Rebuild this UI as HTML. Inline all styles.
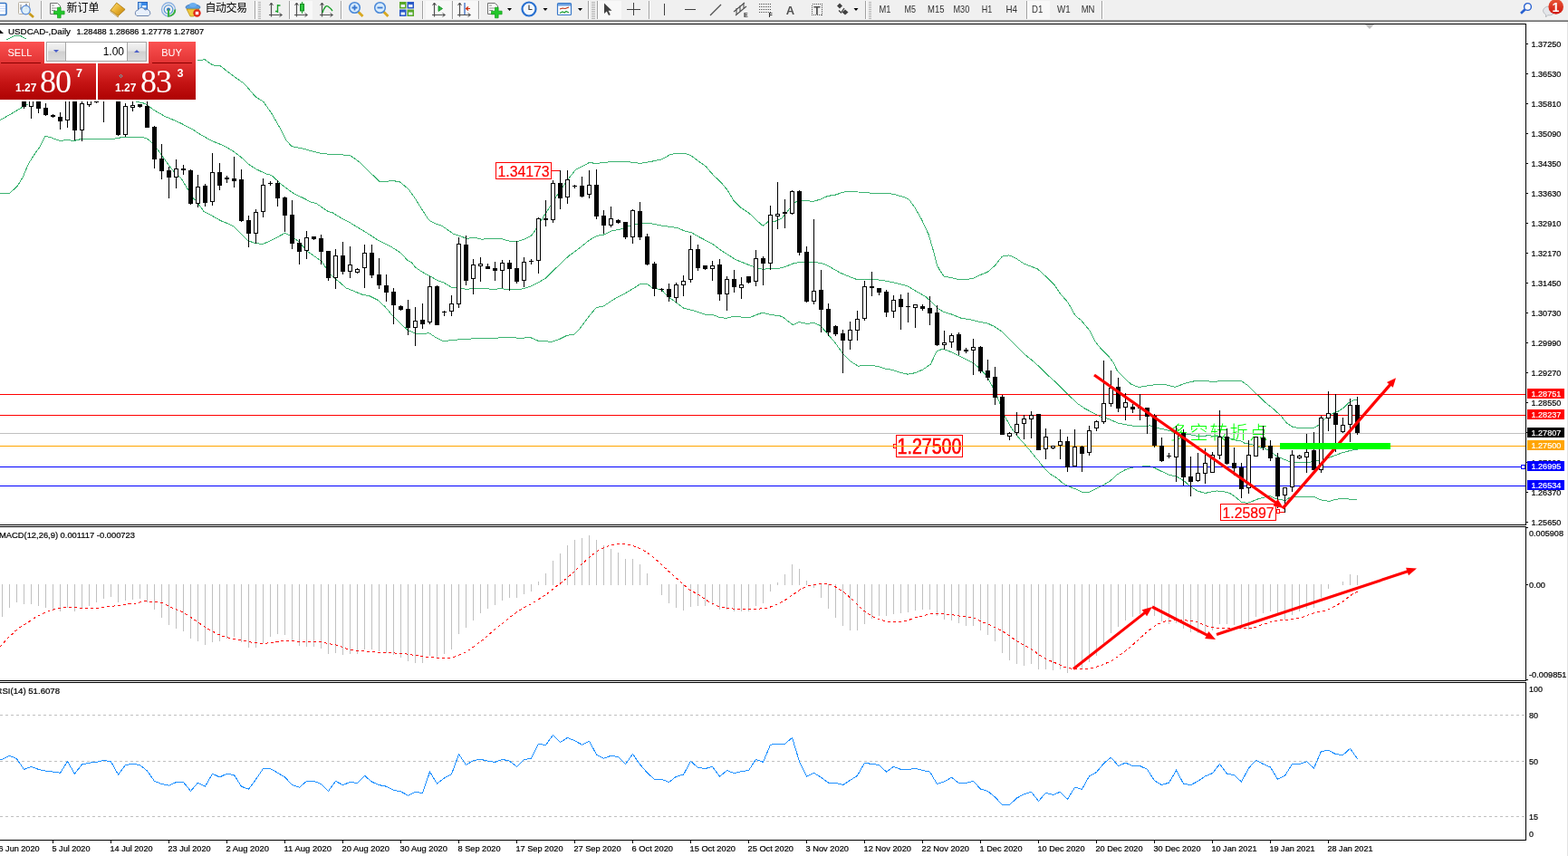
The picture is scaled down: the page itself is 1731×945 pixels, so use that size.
<!DOCTYPE html>
<html lang="zh"><head><meta charset="utf-8"><title>USDCAD Daily</title>
<style>
html,body{margin:0;padding:0;background:#fff;}
body{width:1731px;height:945px;overflow:hidden;position:relative;}
svg{position:absolute;left:0;top:0;display:block;font-family:"Liberation Sans","Noto Sans CJK SC",sans-serif;}
text{white-space:pre;}
</style></head><body>
<svg width="1731" height="945" viewBox="0 0 1731 945">
<g shape-rendering="crispEdges">
<rect x="0" y="26" width="1685" height="1" fill="#000"/>
<rect x="1684" y="26" width="1" height="554" fill="#000"/>
<rect x="0" y="579" width="1685" height="1" fill="#000"/>
<rect x="0" y="581" width="1685" height="1" fill="#000"/>
<rect x="1684" y="581" width="1" height="171" fill="#000"/>
<rect x="0" y="751" width="1685" height="1" fill="#000"/>
<rect x="0" y="753" width="1685" height="1" fill="#000"/>
<rect x="1684" y="753" width="1" height="175" fill="#000"/>
<rect x="0" y="927" width="1685" height="1" fill="#000"/>
<rect x="1730" y="24" width="1" height="921" fill="#e3e3e3"/>
</g>
<g id="bgobjects">
<text x="1291.5" y="485" font-size="20" fill="#00ff00" text-anchor="start" id="cn" letter-spacing="2" font-weight="300">多空转折点</text>
<rect x="547.5" y="179.5" width="61" height="18" fill="none" stroke="#f00" stroke-width="1" shape-rendering="crispEdges"/>
<text x="0" y="0" font-size="15.8" fill="#f00" stroke="#f00" stroke-width="0.2" text-anchor="middle" transform="translate(578.0,195) scale(1,1.0)">1.34173</text>
<rect x="609" y="188" width="10" height="1" fill="#f00" shape-rendering="crispEdges"/>
<rect x="989.5" y="480.5" width="73" height="24" fill="none" stroke="#f00" stroke-width="1" shape-rendering="crispEdges"/>
<text x="0" y="0" font-size="19.6" fill="#f00" stroke="#f00" stroke-width="0.5" text-anchor="middle" transform="translate(1026.0,501) scale(1,1.18)">1.27500</text>
<rect x="986.5" y="490.5" width="3" height="4" fill="none" stroke="#f00" shape-rendering="crispEdges"/>
<rect x="1347.5" y="556.5" width="61" height="18" fill="none" stroke="#f00" stroke-width="1" shape-rendering="crispEdges"/>
<text x="0" y="0" font-size="15.8" fill="#f00" stroke="#f00" stroke-width="0.2" text-anchor="middle" transform="translate(1378.0,572) scale(1,1.0)">1.25897</text>
<rect x="1409.5" y="562.5" width="3" height="4" fill="none" stroke="#f00" shape-rendering="crispEdges"/>
<rect x="1412" y="565" width="7" height="1" fill="#f00" shape-rendering="crispEdges"/>
</g>
<g shape-rendering="crispEdges">
</g><g id="bands" shape-rendering="crispEdges">
<polyline points="7.5,43.7 15.0,40.0 22.5,39.5 28.7,43.0" fill="none" stroke="#3cb371" stroke-width="1"/>
<polyline points="216.0,67.4 226.0,65.7 234.7,71.9 243.5,72.9 249.7,77.9 259.7,85.4 269.7,92.4 282.2,106.9 290.9,112.4 299.7,124.9 309.6,142.4 315.9,154.8 322.0,161.6 334.6,164.1 338.7,165.3 354.2,169.4 370.9,170.8 386.1,171.2 393.9,176.7 400.1,181.8 409.2,191.0 418.8,200.2 425.7,200.5 433.0,199.3 441.5,201.0 450.7,208.5 457.4,217.7 464.1,228.5 472.6,241.8 475.2,244.2 480.8,246.9 486.6,248.7 491.9,252.0 500.3,258.1 508.6,260.9 515.3,263.4 523.7,262.1 532.0,264.2 542.1,263.4 552.1,263.1 560.5,265.9 570.5,266.7 579.5,263.9 587.0,259.8 592.8,251.4 599.6,239.8 610.1,223.5 618.4,210.1 626.8,198.4 635.2,187.6 643.5,183.4 650.2,179.6 658.6,180.4 668.6,179.2 680.3,178.4 693.7,178.7 707.0,180.4 718.7,178.4 730.4,175.9 740.5,170.4 747.2,169.2 755.5,169.2 762.2,171.4 770.6,177.6 778.9,183.4 787.5,193.4 795.5,200.9 803.0,209.7 810.5,222.2 818.0,229.4 826.4,234.8 834.7,242.7 842.2,249.4 849.0,243.9 855.6,244.5 863.1,240.8 869.2,233.5 875.5,225.1 880.5,221.7 888.9,221.2 897.2,222.6 905.6,220.1 914.0,216.4 922.3,215.1 930.7,212.2 939.0,211.2 947.4,212.0 955.7,212.2 964.1,213.7 975.8,213.9 980.0,213.0 989.0,215.1 998.4,217.6 1003.4,220.1 1010.1,229.3 1016.8,241.0 1025.2,258.9 1030.6,277.6 1034.6,293.1 1037.7,298.6 1042.3,305.2 1050.2,306.5 1057.2,308.2 1068.3,308.4 1074.4,307.3 1082.0,303.6 1090.3,300.3 1098.7,292.8 1106.2,283.2 1113.7,281.9 1120.4,284.4 1130.4,291.1 1138.8,294.4 1145.5,296.9 1153.8,304.5 1163.9,314.5 1170.6,324.5 1178.9,333.7 1187.2,348.6 1193.8,353.9 1196.5,357.1 1203.0,365.0 1208.8,376.7 1215.5,385.1 1223.9,393.5 1228.9,400.1 1233.9,410.2 1240.6,416.9 1248.9,424.4 1257.3,427.4 1265.7,426.1 1277.4,424.4 1287.4,424.9 1297.4,427.4 1307.4,423.5 1317.5,421.0 1329.0,420.5 1340.0,421.4 1350.1,420.4 1360.1,420.4 1370.1,420.4 1376.8,425.0 1383.5,431.7 1390.2,437.6 1396.9,444.3 1405.2,451.0 1413.6,458.5 1420.3,466.8 1426.9,471.3 1435.3,472.7 1443.7,473.0 1452.0,471.8 1458.7,466.8 1463.7,461.0 1470.4,456.8 1477.1,454.3 1483.8,449.8 1488.8,444.8 1493.8,442.1 1498.5,440.9" fill="none" stroke="#3cb371" stroke-width="1"/>
<polyline points="0.0,132.7 12.5,125.6 25.0,118.1 31.2,115.0" fill="none" stroke="#3cb371" stroke-width="1"/>
<polyline points="150.4,112.2 158.6,114.0 162.3,115.6 169.2,121.2 177.3,125.6 182.3,128.6 187.3,130.6 199.8,136.1 214.2,143.8 217.2,146.1 232.2,154.8 247.8,161.2 258.2,167.4 266.9,174.2 273.7,180.8 282.9,186.8 293.6,191.8 299.7,193.5 307.0,200.1 312.1,204.8 324.1,213.5 337.1,219.8 342.1,222.7 349.6,224.8 362.1,233.5 367.1,234.8 377.2,241.1 384.6,244.7 392.2,249.4 401.0,254.7 408.6,259.4 418.7,266.0 432.9,273.1 442.1,279.0 450.1,287.6 454.1,289.5 458.5,295.2 465.5,299.9 474.6,304.9 483.9,309.9 489.9,311.9 498.6,317.4 507.0,317.7 515.3,319.4 523.7,318.2 533.7,318.2 543.7,319.4 553.8,318.6 562.1,319.9 573.8,319.4 582.0,317.6 591.1,313.6 602.0,307.4 612.8,296.9 622.3,287.6 628.8,281.9 639.6,274.0 650.5,265.2 658.9,260.4 667.1,258.9 675.5,254.9 687.5,252.4 698.5,247.9 707.7,246.4 718.5,246.7 729.4,248.9 738.4,250.2 747.9,251.6 756.1,255.1 763.7,256.9 772.0,261.7 780.2,266.0 787.5,269.9 795.9,276.3 804.7,281.9 811.5,286.3 817.0,288.6 823.2,291.1 832.1,294.5 840.6,297.0 843.5,297.1 851.0,296.7 861.1,296.1 868.5,293.8 877.0,290.4 883.9,289.4 888.6,289.2 893.9,289.4 902.1,289.8 910.5,291.6 918.9,296.2 928.0,301.4 937.2,305.2 945.6,308.4 955.6,308.8 968.1,308.8 979.4,310.4 989.5,312.5 1001.2,315.6 1006.7,318.7 1013.7,322.8 1022.1,327.8 1029.6,334.4 1035.2,340.4 1041.3,344.1 1050.5,347.0 1057.7,349.9 1060.8,351.1 1068.3,352.4 1073.4,353.3 1080.3,355.1 1090.7,357.1 1098.5,360.9 1106.9,366.7 1115.2,375.1 1123.6,383.4 1131.9,391.8 1140.3,398.5 1148.6,406.0 1157.0,414.4 1165.4,421.9 1173.6,430.1 1181.2,437.6 1189.5,445.5 1197.8,451.1 1207.1,456.0 1215.4,460.1 1223.8,462.5 1233.8,466.9 1243.8,468.9 1255.5,470.9 1263.8,470.1 1269.0,470.0 1273.8,470.1 1279.0,472.9 1283.9,473.8 1292.3,475.7 1302.3,478.2 1312.4,479.4 1322.4,481.5 1329.0,481.9 1334.0,480.1 1340.0,481.9 1344.0,481.0 1350.1,482.7 1354.1,483.2 1360.1,484.4 1364.1,486.0 1370.1,486.9 1374.1,489.3 1380.1,490.2 1386.1,492.0 1388.5,493.6 1396.9,495.2 1403.5,499.4 1410.2,504.1 1416.9,506.9 1423.6,509.5 1430.3,510.3 1438.6,510.3 1447.0,510.0 1453.7,508.6 1460.4,507.8 1467.1,505.3 1473.7,502.8 1480.4,500.3 1487.1,498.3 1493.8,496.9 1498.5,496.1" fill="none" stroke="#3cb371" stroke-width="1"/>
<polyline points="0.0,213.2 10.6,213.2 18.7,206.1 25.0,196.1 31.2,181.2 37.5,171.2 43.7,162.4 49.9,150.3 56.2,151.8 66.2,155.6 74.9,154.3 81.2,155.6 89.9,153.4 124.9,153.3 137.3,151.2 156.1,151.2 162.3,153.1 168.6,158.1 174.8,166.2 181.0,174.9 187.3,183.7 193.5,191.1 199.9,196.6 206.8,208.1 212.3,218.0 216.7,221.8 225.1,233.5 233.4,237.7 243.5,243.6 251.8,246.9 258.5,250.3 266.9,258.6 273.5,265.6 281.9,268.6 290.3,269.5 300.3,265.0 314.5,257.4 320.3,260.3 330.4,267.0 338.7,277.0 347.1,282.9 355.4,288.7 360.5,297.1 367.2,305.4 375.5,312.1 382.2,318.0 400.0,325.2 408.4,326.9 416.7,331.1 425.1,338.6 433.4,348.6 441.8,357.0 450.1,364.5 458.5,367.9 466.9,369.0 473.5,367.5 480.2,372.0 488.6,376.2 493.6,376.2 508.6,374.6 525.4,373.7 542.1,373.4 558.8,372.6 575.5,373.2 585.5,372.6 593.9,376.2 602.3,376.7 608.9,377.4 617.3,374.6 625.7,370.4 634.0,369.2 640.7,362.0 650.7,348.6 658.2,339.5 665.8,338.3 674.1,332.8 680.8,328.6 688.0,325.2 700.1,317.9 706.9,313.3 714.4,313.3 721.0,318.4 730.1,319.5 736.8,327.0 745.1,332.9 755.2,340.4 766.9,343.3 778.5,347.1 786.8,347.5 793.5,350.1 801.0,351.4 810.2,349.2 818.5,350.1 826.9,351.0 835.3,347.4 842.4,345.1 850.3,347.5 859.5,348.5 863.8,349.6 868.3,353.3 875.3,358.6 882.0,355.6 890.3,357.3 898.7,356.6 905.4,359.4 913.7,368.6 922.1,378.6 930.4,390.3 938.8,398.7 947.2,404.2 955.5,403.4 968.9,404.2 977.2,407.1 985.6,408.4 994.0,411.2 1002.3,413.2 1010.7,411.6 1019.0,407.9 1027.4,402.0 1034.1,387.8 1040.4,385.2 1047.9,387.7 1057.1,391.9 1066.5,396.9 1073.4,400.1 1081.8,406.8 1090.1,416.0 1098.4,432.2 1104.2,446.0 1110.1,461.1 1116.8,472.8 1124.3,482.8 1131.8,491.1 1136.9,497.1 1142.7,504.4 1146.1,508.0 1150.1,513.6 1158.5,522.8 1166.9,527.8 1173.5,533.6 1181.9,537.8 1188.6,540.3 1195.3,543.7 1202.0,543.3 1208.6,540.3 1217.0,536.1 1225.4,531.1 1233.7,523.6 1242.1,518.6 1250.4,516.1 1258.8,515.2 1267.2,514.4 1273.8,516.1 1282.2,520.3 1290.6,524.1 1298.9,526.1 1307.3,531.1 1314.0,537.0 1322.3,542.0 1330.3,544.5 1337.8,542.8 1343.4,542.0 1350.4,542.6 1357.9,544.5 1363.8,548.7 1370.4,554.1 1377.2,555.4 1383.8,552.9 1389.1,550.8 1396.9,548.7 1401.0,547.2 1408.0,550.3 1412.6,551.9 1419.6,552.1 1423.3,549.3 1429.0,548.4 1450.8,548.4 1457.0,551.7 1467.1,553.4 1475.4,551.2 1483.8,550.4 1490.5,551.2 1498.5,551.6" fill="none" stroke="#3cb371" stroke-width="1"/>
</g><g shape-rendering="crispEdges">
<rect x="0" y="435" width="1684" height="1" fill="#f00"/>
<rect x="0" y="458" width="1684" height="1" fill="#f00"/>
<rect x="0" y="478" width="1684" height="1" fill="#c0c0c0"/>
<rect x="0" y="492" width="1684" height="1" fill="#ffa500"/>
<rect x="0" y="515" width="1684" height="1" fill="#00f"/>
<rect x="0" y="536" width="1684" height="1" fill="#00f"/>
</g>
<g id="candles" shape-rendering="crispEdges">
<rect x="26" y="100" width="1" height="20" fill="#000"/>
<rect x="24" y="100" width="5" height="18" fill="#000"/>
<rect x="34" y="100" width="1" height="31" fill="#000"/>
<rect x="32" y="100" width="5" height="18" fill="#000"/>
<rect x="33" y="101" width="3" height="16" fill="#fff"/>
<rect x="42" y="100" width="1" height="25" fill="#000"/>
<rect x="40" y="100" width="5" height="20" fill="#000"/>
<rect x="50" y="114" width="1" height="14" fill="#000"/>
<rect x="48" y="119" width="5" height="8" fill="#000"/>
<rect x="58" y="126" width="1" height="4" fill="#000"/>
<rect x="56" y="127" width="5" height="2" fill="#000"/>
<rect x="66" y="124" width="1" height="19" fill="#000"/>
<rect x="64" y="129" width="5" height="5" fill="#000"/>
<rect x="74" y="100" width="1" height="41" fill="#000"/>
<rect x="72" y="100" width="5" height="33" fill="#000"/>
<rect x="73" y="101" width="3" height="31" fill="#fff"/>
<rect x="82" y="100" width="1" height="55" fill="#000"/>
<rect x="80" y="100" width="5" height="44" fill="#000"/>
<rect x="90" y="112" width="1" height="44" fill="#000"/>
<rect x="88" y="114" width="5" height="30" fill="#000"/>
<rect x="89" y="115" width="3" height="28" fill="#fff"/>
<rect x="98" y="100" width="1" height="18" fill="#000"/>
<rect x="96" y="100" width="5" height="16" fill="#000"/>
<rect x="97" y="101" width="3" height="14" fill="#fff"/>
<rect x="106" y="112" width="1" height="2" fill="#000"/>
<rect x="104" y="112" width="5" height="1" fill="#000"/>
<rect x="114" y="100" width="1" height="35" fill="#000"/>
<rect x="112" y="100" width="5" height="1" fill="#000"/>
<rect x="130" y="100" width="1" height="50" fill="#000"/>
<rect x="128" y="100" width="5" height="49" fill="#000"/>
<rect x="138" y="114" width="1" height="37" fill="#000"/>
<rect x="136" y="117" width="5" height="32" fill="#000"/>
<rect x="137" y="118" width="3" height="30" fill="#fff"/>
<rect x="146" y="112" width="1" height="11" fill="#000"/>
<rect x="144" y="116" width="5" height="3" fill="#000"/>
<rect x="145" y="117" width="3" height="1" fill="#fff"/>
<rect x="154" y="115" width="1" height="4" fill="#000"/>
<rect x="152" y="115" width="5" height="3" fill="#000"/>
<rect x="162" y="112" width="1" height="29" fill="#000"/>
<rect x="160" y="117" width="5" height="24" fill="#000"/>
<rect x="170" y="139" width="1" height="47" fill="#000"/>
<rect x="168" y="140" width="5" height="36" fill="#000"/>
<rect x="178" y="159" width="1" height="39" fill="#000"/>
<rect x="176" y="175" width="5" height="14" fill="#000"/>
<rect x="186" y="184" width="1" height="35" fill="#000"/>
<rect x="184" y="188" width="5" height="8" fill="#000"/>
<rect x="194" y="176" width="1" height="32" fill="#000"/>
<rect x="192" y="186" width="5" height="10" fill="#000"/>
<rect x="193" y="187" width="3" height="8" fill="#fff"/>
<rect x="202" y="182" width="1" height="11" fill="#000"/>
<rect x="200" y="186" width="5" height="2" fill="#000"/>
<rect x="210" y="187" width="1" height="39" fill="#000"/>
<rect x="208" y="188" width="5" height="37" fill="#000"/>
<rect x="218" y="193" width="1" height="36" fill="#000"/>
<rect x="216" y="206" width="5" height="19" fill="#000"/>
<rect x="217" y="207" width="3" height="17" fill="#fff"/>
<rect x="226" y="203" width="1" height="25" fill="#000"/>
<rect x="224" y="205" width="5" height="19" fill="#000"/>
<rect x="234" y="169" width="1" height="58" fill="#000"/>
<rect x="232" y="190" width="5" height="33" fill="#000"/>
<rect x="233" y="191" width="3" height="31" fill="#fff"/>
<rect x="242" y="180" width="1" height="30" fill="#000"/>
<rect x="240" y="190" width="5" height="15" fill="#000"/>
<rect x="250" y="194" width="1" height="8" fill="#000"/>
<rect x="248" y="196" width="5" height="2" fill="#000"/>
<rect x="258" y="173" width="1" height="34" fill="#000"/>
<rect x="256" y="197" width="5" height="3" fill="#000"/>
<rect x="266" y="187" width="1" height="58" fill="#000"/>
<rect x="264" y="198" width="5" height="46" fill="#000"/>
<rect x="274" y="238" width="1" height="35" fill="#000"/>
<rect x="272" y="243" width="5" height="15" fill="#000"/>
<rect x="282" y="231" width="1" height="38" fill="#000"/>
<rect x="280" y="234" width="5" height="24" fill="#000"/>
<rect x="281" y="235" width="3" height="22" fill="#fff"/>
<rect x="290" y="197" width="1" height="43" fill="#000"/>
<rect x="288" y="204" width="5" height="30" fill="#000"/>
<rect x="289" y="205" width="3" height="28" fill="#fff"/>
<rect x="298" y="200" width="1" height="5" fill="#000"/>
<rect x="296" y="202" width="5" height="1" fill="#000"/>
<rect x="306" y="199" width="1" height="29" fill="#000"/>
<rect x="304" y="202" width="5" height="17" fill="#000"/>
<rect x="314" y="217" width="1" height="39" fill="#000"/>
<rect x="312" y="218" width="5" height="20" fill="#000"/>
<rect x="322" y="221" width="1" height="54" fill="#000"/>
<rect x="320" y="237" width="5" height="32" fill="#000"/>
<rect x="330" y="264" width="1" height="28" fill="#000"/>
<rect x="328" y="268" width="5" height="10" fill="#000"/>
<rect x="338" y="255" width="1" height="31" fill="#000"/>
<rect x="336" y="262" width="5" height="15" fill="#000"/>
<rect x="337" y="263" width="3" height="13" fill="#fff"/>
<rect x="346" y="261" width="1" height="4" fill="#000"/>
<rect x="344" y="261" width="5" height="3" fill="#000"/>
<rect x="354" y="259" width="1" height="33" fill="#000"/>
<rect x="352" y="263" width="5" height="15" fill="#000"/>
<rect x="362" y="277" width="1" height="33" fill="#000"/>
<rect x="360" y="277" width="5" height="30" fill="#000"/>
<rect x="370" y="275" width="1" height="44" fill="#000"/>
<rect x="368" y="282" width="5" height="25" fill="#000"/>
<rect x="369" y="283" width="3" height="23" fill="#fff"/>
<rect x="378" y="267" width="1" height="36" fill="#000"/>
<rect x="376" y="282" width="5" height="18" fill="#000"/>
<rect x="386" y="272" width="1" height="35" fill="#000"/>
<rect x="384" y="292" width="5" height="8" fill="#000"/>
<rect x="385" y="293" width="3" height="6" fill="#fff"/>
<rect x="394" y="296" width="1" height="6" fill="#000"/>
<rect x="392" y="297" width="5" height="4" fill="#000"/>
<rect x="393" y="298" width="3" height="2" fill="#fff"/>
<rect x="402" y="270" width="1" height="48" fill="#000"/>
<rect x="400" y="279" width="5" height="17" fill="#000"/>
<rect x="401" y="280" width="3" height="15" fill="#fff"/>
<rect x="410" y="270" width="1" height="37" fill="#000"/>
<rect x="408" y="279" width="5" height="25" fill="#000"/>
<rect x="418" y="285" width="1" height="34" fill="#000"/>
<rect x="416" y="303" width="5" height="12" fill="#000"/>
<rect x="426" y="303" width="1" height="30" fill="#000"/>
<rect x="424" y="315" width="5" height="8" fill="#000"/>
<rect x="434" y="318" width="1" height="40" fill="#000"/>
<rect x="432" y="322" width="5" height="15" fill="#000"/>
<rect x="442" y="337" width="1" height="6" fill="#000"/>
<rect x="440" y="338" width="5" height="4" fill="#000"/>
<rect x="450" y="331" width="1" height="39" fill="#000"/>
<rect x="448" y="341" width="5" height="21" fill="#000"/>
<rect x="458" y="339" width="1" height="43" fill="#000"/>
<rect x="456" y="354" width="5" height="8" fill="#000"/>
<rect x="457" y="355" width="3" height="6" fill="#fff"/>
<rect x="466" y="335" width="1" height="28" fill="#000"/>
<rect x="464" y="353" width="5" height="5" fill="#000"/>
<rect x="474" y="305" width="1" height="53" fill="#000"/>
<rect x="472" y="316" width="5" height="40" fill="#000"/>
<rect x="473" y="317" width="3" height="38" fill="#fff"/>
<rect x="482" y="315" width="1" height="44" fill="#000"/>
<rect x="480" y="316" width="5" height="43" fill="#000"/>
<rect x="490" y="343" width="1" height="6" fill="#000"/>
<rect x="488" y="344" width="5" height="1" fill="#000"/>
<rect x="498" y="326" width="1" height="23" fill="#000"/>
<rect x="496" y="335" width="5" height="9" fill="#000"/>
<rect x="497" y="336" width="3" height="7" fill="#fff"/>
<rect x="506" y="262" width="1" height="78" fill="#000"/>
<rect x="504" y="269" width="5" height="67" fill="#000"/>
<rect x="505" y="270" width="3" height="65" fill="#fff"/>
<rect x="514" y="260" width="1" height="55" fill="#000"/>
<rect x="512" y="270" width="5" height="40" fill="#000"/>
<rect x="522" y="286" width="1" height="39" fill="#000"/>
<rect x="520" y="292" width="5" height="16" fill="#000"/>
<rect x="521" y="293" width="3" height="14" fill="#fff"/>
<rect x="530" y="284" width="1" height="27" fill="#000"/>
<rect x="528" y="291" width="5" height="3" fill="#000"/>
<rect x="529" y="292" width="3" height="1" fill="#fff"/>
<rect x="538" y="291" width="1" height="6" fill="#000"/>
<rect x="536" y="294" width="5" height="3" fill="#000"/>
<rect x="546" y="289" width="1" height="21" fill="#000"/>
<rect x="544" y="296" width="5" height="3" fill="#000"/>
<rect x="554" y="287" width="1" height="31" fill="#000"/>
<rect x="552" y="290" width="5" height="9" fill="#000"/>
<rect x="553" y="291" width="3" height="7" fill="#fff"/>
<rect x="562" y="287" width="1" height="34" fill="#000"/>
<rect x="560" y="290" width="5" height="7" fill="#000"/>
<rect x="570" y="266" width="1" height="47" fill="#000"/>
<rect x="568" y="296" width="5" height="15" fill="#000"/>
<rect x="578" y="284" width="1" height="33" fill="#000"/>
<rect x="576" y="289" width="5" height="21" fill="#000"/>
<rect x="577" y="290" width="3" height="19" fill="#fff"/>
<rect x="586" y="286" width="1" height="6" fill="#000"/>
<rect x="584" y="288" width="5" height="1" fill="#000"/>
<rect x="594" y="240" width="1" height="62" fill="#000"/>
<rect x="592" y="241" width="5" height="47" fill="#000"/>
<rect x="593" y="242" width="3" height="45" fill="#fff"/>
<rect x="602" y="221" width="1" height="29" fill="#000"/>
<rect x="600" y="241" width="5" height="2" fill="#000"/>
<rect x="610" y="199" width="1" height="47" fill="#000"/>
<rect x="608" y="202" width="5" height="41" fill="#000"/>
<rect x="609" y="203" width="3" height="39" fill="#fff"/>
<rect x="618" y="188" width="1" height="43" fill="#000"/>
<rect x="616" y="202" width="5" height="17" fill="#000"/>
<rect x="626" y="188" width="1" height="37" fill="#000"/>
<rect x="624" y="198" width="5" height="20" fill="#000"/>
<rect x="625" y="199" width="3" height="18" fill="#fff"/>
<rect x="634" y="204" width="1" height="4" fill="#000"/>
<rect x="632" y="205" width="5" height="1" fill="#000"/>
<rect x="642" y="195" width="1" height="23" fill="#000"/>
<rect x="640" y="205" width="5" height="12" fill="#000"/>
<rect x="650" y="188" width="1" height="31" fill="#000"/>
<rect x="648" y="204" width="5" height="11" fill="#000"/>
<rect x="649" y="205" width="3" height="9" fill="#fff"/>
<rect x="658" y="187" width="1" height="55" fill="#000"/>
<rect x="656" y="204" width="5" height="35" fill="#000"/>
<rect x="666" y="232" width="1" height="26" fill="#000"/>
<rect x="664" y="238" width="5" height="11" fill="#000"/>
<rect x="674" y="228" width="1" height="23" fill="#000"/>
<rect x="672" y="241" width="5" height="8" fill="#000"/>
<rect x="673" y="242" width="3" height="6" fill="#fff"/>
<rect x="682" y="242" width="1" height="5" fill="#000"/>
<rect x="680" y="243" width="5" height="3" fill="#000"/>
<rect x="690" y="245" width="1" height="19" fill="#000"/>
<rect x="688" y="245" width="5" height="17" fill="#000"/>
<rect x="698" y="231" width="1" height="38" fill="#000"/>
<rect x="696" y="232" width="5" height="30" fill="#000"/>
<rect x="697" y="233" width="3" height="28" fill="#fff"/>
<rect x="706" y="223" width="1" height="42" fill="#000"/>
<rect x="704" y="233" width="5" height="29" fill="#000"/>
<rect x="714" y="258" width="1" height="35" fill="#000"/>
<rect x="712" y="261" width="5" height="31" fill="#000"/>
<rect x="722" y="289" width="1" height="38" fill="#000"/>
<rect x="720" y="291" width="5" height="28" fill="#000"/>
<rect x="730" y="318" width="1" height="4" fill="#000"/>
<rect x="728" y="319" width="5" height="1" fill="#000"/>
<rect x="738" y="313" width="1" height="20" fill="#000"/>
<rect x="736" y="319" width="5" height="9" fill="#000"/>
<rect x="746" y="312" width="1" height="22" fill="#000"/>
<rect x="744" y="314" width="5" height="15" fill="#000"/>
<rect x="745" y="315" width="3" height="13" fill="#fff"/>
<rect x="754" y="304" width="1" height="23" fill="#000"/>
<rect x="752" y="310" width="5" height="5" fill="#000"/>
<rect x="753" y="311" width="3" height="3" fill="#fff"/>
<rect x="762" y="260" width="1" height="52" fill="#000"/>
<rect x="760" y="275" width="5" height="34" fill="#000"/>
<rect x="761" y="276" width="3" height="32" fill="#fff"/>
<rect x="770" y="270" width="1" height="29" fill="#000"/>
<rect x="768" y="275" width="5" height="21" fill="#000"/>
<rect x="778" y="293" width="1" height="5" fill="#000"/>
<rect x="776" y="293" width="5" height="4" fill="#000"/>
<rect x="786" y="288" width="1" height="22" fill="#000"/>
<rect x="784" y="293" width="5" height="4" fill="#000"/>
<rect x="785" y="294" width="3" height="2" fill="#fff"/>
<rect x="794" y="286" width="1" height="46" fill="#000"/>
<rect x="792" y="292" width="5" height="33" fill="#000"/>
<rect x="802" y="305" width="1" height="38" fill="#000"/>
<rect x="800" y="308" width="5" height="17" fill="#000"/>
<rect x="801" y="309" width="3" height="15" fill="#fff"/>
<rect x="810" y="298" width="1" height="25" fill="#000"/>
<rect x="808" y="308" width="5" height="9" fill="#000"/>
<rect x="818" y="306" width="1" height="24" fill="#000"/>
<rect x="816" y="314" width="5" height="4" fill="#000"/>
<rect x="817" y="315" width="3" height="2" fill="#fff"/>
<rect x="826" y="305" width="1" height="8" fill="#000"/>
<rect x="824" y="305" width="5" height="7" fill="#000"/>
<rect x="834" y="276" width="1" height="40" fill="#000"/>
<rect x="832" y="285" width="5" height="26" fill="#000"/>
<rect x="833" y="286" width="3" height="24" fill="#fff"/>
<rect x="842" y="283" width="1" height="32" fill="#000"/>
<rect x="840" y="285" width="5" height="6" fill="#000"/>
<rect x="850" y="227" width="1" height="71" fill="#000"/>
<rect x="848" y="237" width="5" height="54" fill="#000"/>
<rect x="849" y="238" width="3" height="52" fill="#fff"/>
<rect x="858" y="201" width="1" height="52" fill="#000"/>
<rect x="856" y="236" width="5" height="3" fill="#000"/>
<rect x="857" y="237" width="3" height="1" fill="#fff"/>
<rect x="866" y="220" width="1" height="32" fill="#000"/>
<rect x="864" y="234" width="5" height="2" fill="#000"/>
<rect x="874" y="210" width="1" height="27" fill="#000"/>
<rect x="872" y="211" width="5" height="25" fill="#000"/>
<rect x="873" y="212" width="3" height="23" fill="#fff"/>
<rect x="882" y="210" width="1" height="72" fill="#000"/>
<rect x="880" y="211" width="5" height="68" fill="#000"/>
<rect x="890" y="272" width="1" height="62" fill="#000"/>
<rect x="888" y="278" width="5" height="55" fill="#000"/>
<rect x="898" y="242" width="1" height="94" fill="#000"/>
<rect x="896" y="321" width="5" height="12" fill="#000"/>
<rect x="897" y="322" width="3" height="10" fill="#fff"/>
<rect x="906" y="298" width="1" height="69" fill="#000"/>
<rect x="904" y="320" width="5" height="22" fill="#000"/>
<rect x="914" y="335" width="1" height="36" fill="#000"/>
<rect x="912" y="341" width="5" height="26" fill="#000"/>
<rect x="922" y="359" width="1" height="12" fill="#000"/>
<rect x="920" y="360" width="5" height="9" fill="#000"/>
<rect x="930" y="364" width="1" height="48" fill="#000"/>
<rect x="928" y="368" width="5" height="8" fill="#000"/>
<rect x="938" y="355" width="1" height="31" fill="#000"/>
<rect x="936" y="364" width="5" height="12" fill="#000"/>
<rect x="937" y="365" width="3" height="10" fill="#fff"/>
<rect x="946" y="343" width="1" height="33" fill="#000"/>
<rect x="944" y="352" width="5" height="13" fill="#000"/>
<rect x="945" y="353" width="3" height="11" fill="#fff"/>
<rect x="954" y="310" width="1" height="44" fill="#000"/>
<rect x="952" y="316" width="5" height="36" fill="#000"/>
<rect x="953" y="317" width="3" height="34" fill="#fff"/>
<rect x="962" y="300" width="1" height="27" fill="#000"/>
<rect x="960" y="316" width="5" height="2" fill="#000"/>
<rect x="970" y="318" width="1" height="8" fill="#000"/>
<rect x="968" y="318" width="5" height="5" fill="#000"/>
<rect x="978" y="320" width="1" height="30" fill="#000"/>
<rect x="976" y="322" width="5" height="23" fill="#000"/>
<rect x="986" y="326" width="1" height="25" fill="#000"/>
<rect x="984" y="331" width="5" height="13" fill="#000"/>
<rect x="985" y="332" width="3" height="11" fill="#fff"/>
<rect x="994" y="325" width="1" height="39" fill="#000"/>
<rect x="992" y="330" width="5" height="9" fill="#000"/>
<rect x="1002" y="323" width="1" height="33" fill="#000"/>
<rect x="1000" y="338" width="5" height="1" fill="#000"/>
<rect x="1010" y="336" width="1" height="26" fill="#000"/>
<rect x="1008" y="336" width="5" height="4" fill="#000"/>
<rect x="1009" y="337" width="3" height="2" fill="#fff"/>
<rect x="1018" y="336" width="1" height="7" fill="#000"/>
<rect x="1016" y="338" width="5" height="3" fill="#000"/>
<rect x="1026" y="327" width="1" height="32" fill="#000"/>
<rect x="1024" y="340" width="5" height="6" fill="#000"/>
<rect x="1034" y="337" width="1" height="45" fill="#000"/>
<rect x="1032" y="345" width="5" height="36" fill="#000"/>
<rect x="1042" y="365" width="1" height="21" fill="#000"/>
<rect x="1040" y="378" width="5" height="3" fill="#000"/>
<rect x="1041" y="379" width="3" height="1" fill="#fff"/>
<rect x="1050" y="368" width="1" height="16" fill="#000"/>
<rect x="1048" y="370" width="5" height="8" fill="#000"/>
<rect x="1049" y="371" width="3" height="6" fill="#fff"/>
<rect x="1058" y="367" width="1" height="25" fill="#000"/>
<rect x="1056" y="369" width="5" height="18" fill="#000"/>
<rect x="1066" y="384" width="1" height="6" fill="#000"/>
<rect x="1064" y="386" width="5" height="2" fill="#000"/>
<rect x="1074" y="374" width="1" height="40" fill="#000"/>
<rect x="1072" y="383" width="5" height="4" fill="#000"/>
<rect x="1073" y="384" width="3" height="2" fill="#fff"/>
<rect x="1082" y="382" width="1" height="30" fill="#000"/>
<rect x="1080" y="383" width="5" height="27" fill="#000"/>
<rect x="1090" y="397" width="1" height="23" fill="#000"/>
<rect x="1088" y="409" width="5" height="8" fill="#000"/>
<rect x="1098" y="405" width="1" height="42" fill="#000"/>
<rect x="1096" y="416" width="5" height="23" fill="#000"/>
<rect x="1106" y="436" width="1" height="44" fill="#000"/>
<rect x="1104" y="438" width="5" height="42" fill="#000"/>
<rect x="1114" y="477" width="1" height="9" fill="#000"/>
<rect x="1112" y="478" width="5" height="4" fill="#000"/>
<rect x="1113" y="479" width="3" height="2" fill="#fff"/>
<rect x="1122" y="455" width="1" height="26" fill="#000"/>
<rect x="1120" y="468" width="5" height="10" fill="#000"/>
<rect x="1121" y="469" width="3" height="8" fill="#fff"/>
<rect x="1130" y="458" width="1" height="27" fill="#000"/>
<rect x="1128" y="462" width="5" height="6" fill="#000"/>
<rect x="1129" y="463" width="3" height="4" fill="#fff"/>
<rect x="1138" y="454" width="1" height="30" fill="#000"/>
<rect x="1136" y="458" width="5" height="5" fill="#000"/>
<rect x="1137" y="459" width="3" height="3" fill="#fff"/>
<rect x="1146" y="457" width="1" height="40" fill="#000"/>
<rect x="1144" y="457" width="5" height="40" fill="#000"/>
<rect x="1154" y="473" width="1" height="34" fill="#000"/>
<rect x="1152" y="482" width="5" height="14" fill="#000"/>
<rect x="1153" y="483" width="3" height="12" fill="#fff"/>
<rect x="1162" y="492" width="1" height="4" fill="#000"/>
<rect x="1160" y="492" width="5" height="3" fill="#000"/>
<rect x="1161" y="493" width="3" height="1" fill="#fff"/>
<rect x="1170" y="474" width="1" height="33" fill="#000"/>
<rect x="1168" y="487" width="5" height="5" fill="#000"/>
<rect x="1169" y="488" width="3" height="3" fill="#fff"/>
<rect x="1178" y="482" width="1" height="39" fill="#000"/>
<rect x="1176" y="487" width="5" height="29" fill="#000"/>
<rect x="1186" y="474" width="1" height="41" fill="#000"/>
<rect x="1184" y="493" width="5" height="22" fill="#000"/>
<rect x="1185" y="494" width="3" height="20" fill="#fff"/>
<rect x="1194" y="492" width="1" height="29" fill="#000"/>
<rect x="1192" y="493" width="5" height="8" fill="#000"/>
<rect x="1202" y="470" width="1" height="33" fill="#000"/>
<rect x="1200" y="475" width="5" height="25" fill="#000"/>
<rect x="1201" y="476" width="3" height="23" fill="#fff"/>
<rect x="1210" y="464" width="1" height="12" fill="#000"/>
<rect x="1208" y="465" width="5" height="8" fill="#000"/>
<rect x="1209" y="466" width="3" height="6" fill="#fff"/>
<rect x="1218" y="398" width="1" height="70" fill="#000"/>
<rect x="1216" y="445" width="5" height="21" fill="#000"/>
<rect x="1217" y="446" width="3" height="19" fill="#fff"/>
<rect x="1226" y="409" width="1" height="40" fill="#000"/>
<rect x="1224" y="428" width="5" height="18" fill="#000"/>
<rect x="1225" y="429" width="3" height="16" fill="#fff"/>
<rect x="1234" y="417" width="1" height="38" fill="#000"/>
<rect x="1232" y="427" width="5" height="24" fill="#000"/>
<rect x="1242" y="434" width="1" height="30" fill="#000"/>
<rect x="1240" y="444" width="5" height="6" fill="#000"/>
<rect x="1241" y="445" width="3" height="4" fill="#fff"/>
<rect x="1250" y="446" width="1" height="10" fill="#000"/>
<rect x="1248" y="449" width="5" height="3" fill="#000"/>
<rect x="1258" y="435" width="1" height="29" fill="#000"/>
<rect x="1256" y="450" width="5" height="1" fill="#000"/>
<rect x="1266" y="450" width="1" height="29" fill="#000"/>
<rect x="1264" y="450" width="5" height="10" fill="#000"/>
<rect x="1274" y="457" width="1" height="37" fill="#000"/>
<rect x="1272" y="459" width="5" height="33" fill="#000"/>
<rect x="1282" y="483" width="1" height="27" fill="#000"/>
<rect x="1280" y="492" width="5" height="17" fill="#000"/>
<rect x="1290" y="500" width="1" height="6" fill="#000"/>
<rect x="1288" y="503" width="5" height="1" fill="#000"/>
<rect x="1298" y="470" width="1" height="62" fill="#000"/>
<rect x="1296" y="478" width="5" height="27" fill="#000"/>
<rect x="1297" y="479" width="3" height="25" fill="#fff"/>
<rect x="1306" y="474" width="1" height="62" fill="#000"/>
<rect x="1304" y="478" width="5" height="49" fill="#000"/>
<rect x="1314" y="504" width="1" height="44" fill="#000"/>
<rect x="1312" y="526" width="5" height="6" fill="#000"/>
<rect x="1322" y="500" width="1" height="32" fill="#000"/>
<rect x="1320" y="522" width="5" height="9" fill="#000"/>
<rect x="1321" y="523" width="3" height="7" fill="#fff"/>
<rect x="1330" y="495" width="1" height="39" fill="#000"/>
<rect x="1328" y="511" width="5" height="12" fill="#000"/>
<rect x="1329" y="512" width="3" height="10" fill="#fff"/>
<rect x="1338" y="499" width="1" height="23" fill="#000"/>
<rect x="1336" y="502" width="5" height="20" fill="#000"/>
<rect x="1337" y="503" width="3" height="18" fill="#fff"/>
<rect x="1346" y="453" width="1" height="54" fill="#000"/>
<rect x="1344" y="482" width="5" height="21" fill="#000"/>
<rect x="1345" y="483" width="3" height="19" fill="#fff"/>
<rect x="1354" y="473" width="1" height="40" fill="#000"/>
<rect x="1352" y="482" width="5" height="30" fill="#000"/>
<rect x="1362" y="494" width="1" height="31" fill="#000"/>
<rect x="1360" y="511" width="5" height="6" fill="#000"/>
<rect x="1370" y="511" width="1" height="39" fill="#000"/>
<rect x="1368" y="516" width="5" height="24" fill="#000"/>
<rect x="1378" y="486" width="1" height="59" fill="#000"/>
<rect x="1376" y="502" width="5" height="37" fill="#000"/>
<rect x="1377" y="503" width="3" height="35" fill="#fff"/>
<rect x="1386" y="482" width="1" height="22" fill="#000"/>
<rect x="1384" y="482" width="5" height="22" fill="#000"/>
<rect x="1385" y="483" width="3" height="20" fill="#fff"/>
<rect x="1394" y="470" width="1" height="27" fill="#000"/>
<rect x="1392" y="483" width="5" height="11" fill="#000"/>
<rect x="1402" y="486" width="1" height="23" fill="#000"/>
<rect x="1400" y="492" width="5" height="14" fill="#000"/>
<rect x="1410" y="500" width="1" height="61" fill="#000"/>
<rect x="1408" y="505" width="5" height="43" fill="#000"/>
<rect x="1418" y="538" width="1" height="28" fill="#000"/>
<rect x="1416" y="538" width="5" height="9" fill="#000"/>
<rect x="1417" y="539" width="3" height="7" fill="#fff"/>
<rect x="1426" y="497" width="1" height="46" fill="#000"/>
<rect x="1424" y="502" width="5" height="36" fill="#000"/>
<rect x="1425" y="503" width="3" height="34" fill="#fff"/>
<rect x="1434" y="502" width="1" height="5" fill="#000"/>
<rect x="1432" y="503" width="5" height="3" fill="#000"/>
<rect x="1433" y="504" width="3" height="1" fill="#fff"/>
<rect x="1442" y="479" width="1" height="43" fill="#000"/>
<rect x="1440" y="499" width="5" height="6" fill="#000"/>
<rect x="1441" y="500" width="3" height="4" fill="#fff"/>
<rect x="1450" y="477" width="1" height="42" fill="#000"/>
<rect x="1448" y="497" width="5" height="22" fill="#000"/>
<rect x="1458" y="459" width="1" height="63" fill="#000"/>
<rect x="1456" y="461" width="5" height="58" fill="#000"/>
<rect x="1457" y="462" width="3" height="56" fill="#fff"/>
<rect x="1466" y="432" width="1" height="44" fill="#000"/>
<rect x="1464" y="456" width="5" height="6" fill="#000"/>
<rect x="1465" y="457" width="3" height="4" fill="#fff"/>
<rect x="1474" y="435" width="1" height="64" fill="#000"/>
<rect x="1472" y="456" width="5" height="13" fill="#000"/>
<rect x="1482" y="461" width="1" height="17" fill="#000"/>
<rect x="1480" y="469" width="5" height="8" fill="#000"/>
<rect x="1481" y="470" width="3" height="6" fill="#fff"/>
<rect x="1490" y="440" width="1" height="48" fill="#000"/>
<rect x="1488" y="447" width="5" height="22" fill="#000"/>
<rect x="1489" y="448" width="3" height="20" fill="#fff"/>
<rect x="1498" y="438" width="1" height="42" fill="#000"/>
<rect x="1496" y="447" width="5" height="31" fill="#000"/>
</g>
<g id="fgobjects">
<line x1="1208" y1="414" x2="1409.6" y2="555.8" stroke="#f00" stroke-width="3.2"/>
<polygon points="1417.0,561.0 1405.4,558.4 1410.6,551.0" fill="#f00"/>
<line x1="1416" y1="561.4" x2="1535.8" y2="423.3" stroke="#f00" stroke-width="3.3"/>
<polygon points="1541.0,417.3 1537.8,427.8 1531.0,421.9" fill="#f00"/>
<rect x="1413" y="489" width="122" height="7" fill="#00ff00" shape-rendering="crispEdges"/>
</g>
<rect x="1679.5" y="513.5" width="4" height="4" fill="#fff" stroke="#00f" shape-rendering="crispEdges"/>
<polygon points="0,33 0,37 4,37" fill="#000"/>
<text x="9" y="38" font-size="9.8" fill="#000" stroke="#000" stroke-width="0.22" textLength="69" lengthAdjust="spacingAndGlyphs">USDCAD-,Daily</text>
<text x="84.5" y="38" font-size="9.8" fill="#000" stroke="#000" stroke-width="0.22" textLength="140.5" lengthAdjust="spacingAndGlyphs">1.28488 1.28686 1.27778 1.27807</text>
<g id="yaxis">
<rect x="1685" y="48" width="2" height="1" fill="#000" shape-rendering="crispEdges"/>
<text x="1690.5" y="52" font-size="9.8" fill="#000" stroke="#000" stroke-width="0.22" textLength="32.8" lengthAdjust="spacingAndGlyphs">1.37250</text>
<rect x="1685" y="81" width="2" height="1" fill="#000" shape-rendering="crispEdges"/>
<text x="1690.5" y="85" font-size="9.8" fill="#000" stroke="#000" stroke-width="0.22" textLength="32.8" lengthAdjust="spacingAndGlyphs">1.36530</text>
<rect x="1685" y="114" width="2" height="1" fill="#000" shape-rendering="crispEdges"/>
<text x="1690.5" y="118" font-size="9.8" fill="#000" stroke="#000" stroke-width="0.22" textLength="32.8" lengthAdjust="spacingAndGlyphs">1.35810</text>
<rect x="1685" y="147" width="2" height="1" fill="#000" shape-rendering="crispEdges"/>
<text x="1690.5" y="151" font-size="9.8" fill="#000" stroke="#000" stroke-width="0.22" textLength="32.8" lengthAdjust="spacingAndGlyphs">1.35090</text>
<rect x="1685" y="180" width="2" height="1" fill="#000" shape-rendering="crispEdges"/>
<text x="1690.5" y="184" font-size="9.8" fill="#000" stroke="#000" stroke-width="0.22" textLength="32.8" lengthAdjust="spacingAndGlyphs">1.34350</text>
<rect x="1685" y="213" width="2" height="1" fill="#000" shape-rendering="crispEdges"/>
<text x="1690.5" y="217" font-size="9.8" fill="#000" stroke="#000" stroke-width="0.22" textLength="32.8" lengthAdjust="spacingAndGlyphs">1.33630</text>
<rect x="1685" y="246" width="2" height="1" fill="#000" shape-rendering="crispEdges"/>
<text x="1690.5" y="250" font-size="9.8" fill="#000" stroke="#000" stroke-width="0.22" textLength="32.8" lengthAdjust="spacingAndGlyphs">1.32910</text>
<rect x="1685" y="279" width="2" height="1" fill="#000" shape-rendering="crispEdges"/>
<text x="1690.5" y="283" font-size="9.8" fill="#000" stroke="#000" stroke-width="0.22" textLength="32.8" lengthAdjust="spacingAndGlyphs">1.32170</text>
<rect x="1685" y="312" width="2" height="1" fill="#000" shape-rendering="crispEdges"/>
<text x="1690.5" y="316" font-size="9.8" fill="#000" stroke="#000" stroke-width="0.22" textLength="32.8" lengthAdjust="spacingAndGlyphs">1.31450</text>
<rect x="1685" y="345" width="2" height="1" fill="#000" shape-rendering="crispEdges"/>
<text x="1690.5" y="349" font-size="9.8" fill="#000" stroke="#000" stroke-width="0.22" textLength="32.8" lengthAdjust="spacingAndGlyphs">1.30730</text>
<rect x="1685" y="378" width="2" height="1" fill="#000" shape-rendering="crispEdges"/>
<text x="1690.5" y="382" font-size="9.8" fill="#000" stroke="#000" stroke-width="0.22" textLength="32.8" lengthAdjust="spacingAndGlyphs">1.29990</text>
<rect x="1685" y="411" width="2" height="1" fill="#000" shape-rendering="crispEdges"/>
<text x="1690.5" y="415" font-size="9.8" fill="#000" stroke="#000" stroke-width="0.22" textLength="32.8" lengthAdjust="spacingAndGlyphs">1.29270</text>
<rect x="1685" y="444" width="2" height="1" fill="#000" shape-rendering="crispEdges"/>
<text x="1690.5" y="448" font-size="9.8" fill="#000" stroke="#000" stroke-width="0.22" textLength="32.8" lengthAdjust="spacingAndGlyphs">1.28550</text>
<rect x="1685" y="477" width="2" height="1" fill="#000" shape-rendering="crispEdges"/>
<text x="1690.5" y="481" font-size="9.8" fill="#000" stroke="#000" stroke-width="0.22" textLength="32.8" lengthAdjust="spacingAndGlyphs">1.27810</text>
<rect x="1685" y="510" width="2" height="1" fill="#000" shape-rendering="crispEdges"/>
<text x="1690.5" y="514" font-size="9.8" fill="#000" stroke="#000" stroke-width="0.22" textLength="32.8" lengthAdjust="spacingAndGlyphs">1.27090</text>
<rect x="1685" y="543" width="2" height="1" fill="#000" shape-rendering="crispEdges"/>
<text x="1690.5" y="547" font-size="9.8" fill="#000" stroke="#000" stroke-width="0.22" textLength="32.8" lengthAdjust="spacingAndGlyphs">1.26370</text>
<rect x="1685" y="576" width="2" height="1" fill="#000" shape-rendering="crispEdges"/>
<text x="1690.5" y="580" font-size="9.8" fill="#000" stroke="#000" stroke-width="0.22" textLength="32.8" lengthAdjust="spacingAndGlyphs">1.25650</text>
<rect x="1686" y="429" width="41" height="11" fill="#f00" shape-rendering="crispEdges"/>
<text x="1690.5" y="438" font-size="9.8" fill="#fff" stroke="#fff" stroke-width="0.22" textLength="32.8" lengthAdjust="spacingAndGlyphs">1.28751</text>
<rect x="1686" y="452" width="41" height="11" fill="#f00" shape-rendering="crispEdges"/>
<text x="1690.5" y="461" font-size="9.8" fill="#fff" stroke="#fff" stroke-width="0.22" textLength="32.8" lengthAdjust="spacingAndGlyphs">1.28237</text>
<rect x="1686" y="472" width="41" height="11" fill="#000" shape-rendering="crispEdges"/>
<text x="1690.5" y="481" font-size="9.8" fill="#fff" stroke="#fff" stroke-width="0.22" textLength="32.8" lengthAdjust="spacingAndGlyphs">1.27807</text>
<rect x="1686" y="486" width="41" height="11" fill="#ffa500" shape-rendering="crispEdges"/>
<text x="1690.5" y="495" font-size="9.8" fill="#fff" stroke="#fff" stroke-width="0.22" textLength="32.8" lengthAdjust="spacingAndGlyphs">1.27500</text>
<rect x="1686" y="509" width="41" height="11" fill="#00f" shape-rendering="crispEdges"/>
<text x="1690.5" y="518" font-size="9.8" fill="#fff" stroke="#fff" stroke-width="0.22" textLength="32.8" lengthAdjust="spacingAndGlyphs">1.26995</text>
<rect x="1686" y="530" width="41" height="11" fill="#00f" shape-rendering="crispEdges"/>
<text x="1690.5" y="539" font-size="9.8" fill="#fff" stroke="#fff" stroke-width="0.22" textLength="32.8" lengthAdjust="spacingAndGlyphs">1.26534</text>
<text x="1688" y="591.8" font-size="9.8" fill="#000" stroke="#000" stroke-width="0.22" textLength="38" lengthAdjust="spacingAndGlyphs">0.005908</text>
<text x="1688" y="649" font-size="9.8" fill="#000" stroke="#000" stroke-width="0.22" textLength="18" lengthAdjust="spacingAndGlyphs">0.00</text>
<text x="1688" y="748" font-size="9.8" fill="#000" stroke="#000" stroke-width="0.22" textLength="41.5" lengthAdjust="spacingAndGlyphs">-0.009851</text>
<rect x="1685" y="582" width="2" height="1" fill="#000" shape-rendering="crispEdges"/>
<rect x="1685" y="645" width="2" height="1" fill="#000" shape-rendering="crispEdges"/>
<rect x="1685" y="750" width="2" height="1" fill="#000" shape-rendering="crispEdges"/>
<text x="1688" y="764" font-size="9.8" fill="#000" stroke="#000" stroke-width="0.22" textLength="15" lengthAdjust="spacingAndGlyphs">100</text>
<text x="1688" y="792.5" font-size="9.8" fill="#000" stroke="#000" stroke-width="0.22" textLength="10" lengthAdjust="spacingAndGlyphs">80</text>
<text x="1688" y="844" font-size="9.8" fill="#000" stroke="#000" stroke-width="0.22" textLength="10" lengthAdjust="spacingAndGlyphs">50</text>
<text x="1688" y="905" font-size="9.8" fill="#000" stroke="#000" stroke-width="0.22" textLength="10" lengthAdjust="spacingAndGlyphs">15</text>
<text x="1688" y="924" font-size="9.8" fill="#000" stroke="#000" stroke-width="0.22" textLength="5" lengthAdjust="spacingAndGlyphs">0</text>
</g>
<g id="macd" shape-rendering="crispEdges">
<rect x="2" y="645" width="1" height="36" fill="#c0c0c0"/>
<rect x="10" y="645" width="1" height="26" fill="#c0c0c0"/>
<rect x="18" y="645" width="1" height="20" fill="#c0c0c0"/>
<rect x="26" y="645" width="1" height="22" fill="#c0c0c0"/>
<rect x="34" y="645" width="1" height="22" fill="#c0c0c0"/>
<rect x="42" y="645" width="1" height="24" fill="#c0c0c0"/>
<rect x="50" y="645" width="1" height="26" fill="#c0c0c0"/>
<rect x="58" y="645" width="1" height="28" fill="#c0c0c0"/>
<rect x="66" y="645" width="1" height="30" fill="#c0c0c0"/>
<rect x="74" y="645" width="1" height="26" fill="#c0c0c0"/>
<rect x="82" y="645" width="1" height="30" fill="#c0c0c0"/>
<rect x="90" y="645" width="1" height="26" fill="#c0c0c0"/>
<rect x="98" y="645" width="1" height="24" fill="#c0c0c0"/>
<rect x="106" y="645" width="1" height="20" fill="#c0c0c0"/>
<rect x="114" y="645" width="1" height="16" fill="#c0c0c0"/>
<rect x="122" y="645" width="1" height="14" fill="#c0c0c0"/>
<rect x="130" y="645" width="1" height="20" fill="#c0c0c0"/>
<rect x="138" y="645" width="1" height="18" fill="#c0c0c0"/>
<rect x="146" y="645" width="1" height="17" fill="#c0c0c0"/>
<rect x="154" y="645" width="1" height="16" fill="#c0c0c0"/>
<rect x="162" y="645" width="1" height="20" fill="#c0c0c0"/>
<rect x="170" y="645" width="1" height="28" fill="#c0c0c0"/>
<rect x="178" y="645" width="1" height="37" fill="#c0c0c0"/>
<rect x="186" y="645" width="1" height="45" fill="#c0c0c0"/>
<rect x="194" y="645" width="1" height="49" fill="#c0c0c0"/>
<rect x="202" y="645" width="1" height="52" fill="#c0c0c0"/>
<rect x="210" y="645" width="1" height="60" fill="#c0c0c0"/>
<rect x="218" y="645" width="1" height="63" fill="#c0c0c0"/>
<rect x="226" y="645" width="1" height="67" fill="#c0c0c0"/>
<rect x="234" y="645" width="1" height="64" fill="#c0c0c0"/>
<rect x="242" y="645" width="1" height="63" fill="#c0c0c0"/>
<rect x="250" y="645" width="1" height="60" fill="#c0c0c0"/>
<rect x="258" y="645" width="1" height="58" fill="#c0c0c0"/>
<rect x="266" y="645" width="1" height="64" fill="#c0c0c0"/>
<rect x="274" y="645" width="1" height="70" fill="#c0c0c0"/>
<rect x="282" y="645" width="1" height="70" fill="#c0c0c0"/>
<rect x="290" y="645" width="1" height="65" fill="#c0c0c0"/>
<rect x="298" y="645" width="1" height="58" fill="#c0c0c0"/>
<rect x="306" y="645" width="1" height="55" fill="#c0c0c0"/>
<rect x="314" y="645" width="1" height="56" fill="#c0c0c0"/>
<rect x="322" y="645" width="1" height="62" fill="#c0c0c0"/>
<rect x="330" y="645" width="1" height="68" fill="#c0c0c0"/>
<rect x="338" y="645" width="1" height="69" fill="#c0c0c0"/>
<rect x="346" y="645" width="1" height="69" fill="#c0c0c0"/>
<rect x="354" y="645" width="1" height="71" fill="#c0c0c0"/>
<rect x="362" y="645" width="1" height="77" fill="#c0c0c0"/>
<rect x="370" y="645" width="1" height="76" fill="#c0c0c0"/>
<rect x="378" y="645" width="1" height="78" fill="#c0c0c0"/>
<rect x="386" y="645" width="1" height="77" fill="#c0c0c0"/>
<rect x="394" y="645" width="1" height="77" fill="#c0c0c0"/>
<rect x="402" y="645" width="1" height="72" fill="#c0c0c0"/>
<rect x="410" y="645" width="1" height="72" fill="#c0c0c0"/>
<rect x="418" y="645" width="1" height="74" fill="#c0c0c0"/>
<rect x="426" y="645" width="1" height="76" fill="#c0c0c0"/>
<rect x="434" y="645" width="1" height="78" fill="#c0c0c0"/>
<rect x="442" y="645" width="1" height="81" fill="#c0c0c0"/>
<rect x="450" y="645" width="1" height="85" fill="#c0c0c0"/>
<rect x="458" y="645" width="1" height="87" fill="#c0c0c0"/>
<rect x="466" y="645" width="1" height="87" fill="#c0c0c0"/>
<rect x="474" y="645" width="1" height="79" fill="#c0c0c0"/>
<rect x="482" y="645" width="1" height="81" fill="#c0c0c0"/>
<rect x="490" y="645" width="1" height="77" fill="#c0c0c0"/>
<rect x="498" y="645" width="1" height="72" fill="#c0c0c0"/>
<rect x="506" y="645" width="1" height="55" fill="#c0c0c0"/>
<rect x="514" y="645" width="1" height="48" fill="#c0c0c0"/>
<rect x="522" y="645" width="1" height="40" fill="#c0c0c0"/>
<rect x="530" y="645" width="1" height="32" fill="#c0c0c0"/>
<rect x="538" y="645" width="1" height="27" fill="#c0c0c0"/>
<rect x="546" y="645" width="1" height="23" fill="#c0c0c0"/>
<rect x="554" y="645" width="1" height="18" fill="#c0c0c0"/>
<rect x="562" y="645" width="1" height="15" fill="#c0c0c0"/>
<rect x="570" y="645" width="1" height="15" fill="#c0c0c0"/>
<rect x="578" y="645" width="1" height="11" fill="#c0c0c0"/>
<rect x="586" y="645" width="1" height="8" fill="#c0c0c0"/>
<rect x="594" y="642" width="1" height="4" fill="#c0c0c0"/>
<rect x="602" y="633" width="1" height="13" fill="#c0c0c0"/>
<rect x="610" y="619" width="1" height="27" fill="#c0c0c0"/>
<rect x="618" y="611" width="1" height="35" fill="#c0c0c0"/>
<rect x="626" y="602" width="1" height="44" fill="#c0c0c0"/>
<rect x="634" y="596" width="1" height="50" fill="#c0c0c0"/>
<rect x="642" y="594" width="1" height="52" fill="#c0c0c0"/>
<rect x="650" y="591" width="1" height="55" fill="#c0c0c0"/>
<rect x="658" y="596" width="1" height="50" fill="#c0c0c0"/>
<rect x="666" y="602" width="1" height="44" fill="#c0c0c0"/>
<rect x="674" y="606" width="1" height="40" fill="#c0c0c0"/>
<rect x="682" y="610" width="1" height="36" fill="#c0c0c0"/>
<rect x="690" y="617" width="1" height="29" fill="#c0c0c0"/>
<rect x="698" y="617" width="1" height="29" fill="#c0c0c0"/>
<rect x="706" y="623" width="1" height="23" fill="#c0c0c0"/>
<rect x="714" y="633" width="1" height="13" fill="#c0c0c0"/>
<rect x="730" y="645" width="1" height="12" fill="#c0c0c0"/>
<rect x="738" y="645" width="1" height="21" fill="#c0c0c0"/>
<rect x="746" y="645" width="1" height="26" fill="#c0c0c0"/>
<rect x="754" y="645" width="1" height="29" fill="#c0c0c0"/>
<rect x="762" y="645" width="1" height="25" fill="#c0c0c0"/>
<rect x="770" y="645" width="1" height="24" fill="#c0c0c0"/>
<rect x="778" y="645" width="1" height="24" fill="#c0c0c0"/>
<rect x="786" y="645" width="1" height="23" fill="#c0c0c0"/>
<rect x="794" y="645" width="1" height="28" fill="#c0c0c0"/>
<rect x="802" y="645" width="1" height="28" fill="#c0c0c0"/>
<rect x="810" y="645" width="1" height="30" fill="#c0c0c0"/>
<rect x="818" y="645" width="1" height="30" fill="#c0c0c0"/>
<rect x="826" y="645" width="1" height="30" fill="#c0c0c0"/>
<rect x="834" y="645" width="1" height="24" fill="#c0c0c0"/>
<rect x="842" y="645" width="1" height="21" fill="#c0c0c0"/>
<rect x="850" y="645" width="1" height="8" fill="#c0c0c0"/>
<rect x="858" y="643" width="1" height="3" fill="#c0c0c0"/>
<rect x="866" y="634" width="1" height="12" fill="#c0c0c0"/>
<rect x="874" y="623" width="1" height="23" fill="#c0c0c0"/>
<rect x="882" y="628" width="1" height="18" fill="#c0c0c0"/>
<rect x="890" y="641" width="1" height="5" fill="#c0c0c0"/>
<rect x="898" y="645" width="1" height="4" fill="#c0c0c0"/>
<rect x="906" y="645" width="1" height="15" fill="#c0c0c0"/>
<rect x="914" y="645" width="1" height="27" fill="#c0c0c0"/>
<rect x="922" y="645" width="1" height="37" fill="#c0c0c0"/>
<rect x="930" y="645" width="1" height="46" fill="#c0c0c0"/>
<rect x="938" y="645" width="1" height="51" fill="#c0c0c0"/>
<rect x="946" y="645" width="1" height="51" fill="#c0c0c0"/>
<rect x="954" y="645" width="1" height="44" fill="#c0c0c0"/>
<rect x="962" y="645" width="1" height="38" fill="#c0c0c0"/>
<rect x="970" y="645" width="1" height="35" fill="#c0c0c0"/>
<rect x="978" y="645" width="1" height="35" fill="#c0c0c0"/>
<rect x="986" y="645" width="1" height="33" fill="#c0c0c0"/>
<rect x="994" y="645" width="1" height="32" fill="#c0c0c0"/>
<rect x="1002" y="645" width="1" height="31" fill="#c0c0c0"/>
<rect x="1010" y="645" width="1" height="29" fill="#c0c0c0"/>
<rect x="1018" y="645" width="1" height="28" fill="#c0c0c0"/>
<rect x="1026" y="645" width="1" height="28" fill="#c0c0c0"/>
<rect x="1034" y="645" width="1" height="35" fill="#c0c0c0"/>
<rect x="1042" y="645" width="1" height="39" fill="#c0c0c0"/>
<rect x="1050" y="645" width="1" height="40" fill="#c0c0c0"/>
<rect x="1058" y="645" width="1" height="43" fill="#c0c0c0"/>
<rect x="1066" y="645" width="1" height="46" fill="#c0c0c0"/>
<rect x="1074" y="645" width="1" height="46" fill="#c0c0c0"/>
<rect x="1082" y="645" width="1" height="51" fill="#c0c0c0"/>
<rect x="1090" y="645" width="1" height="56" fill="#c0c0c0"/>
<rect x="1098" y="645" width="1" height="63" fill="#c0c0c0"/>
<rect x="1106" y="645" width="1" height="76" fill="#c0c0c0"/>
<rect x="1114" y="645" width="1" height="84" fill="#c0c0c0"/>
<rect x="1122" y="645" width="1" height="88" fill="#c0c0c0"/>
<rect x="1130" y="645" width="1" height="90" fill="#c0c0c0"/>
<rect x="1138" y="645" width="1" height="88" fill="#c0c0c0"/>
<rect x="1146" y="645" width="1" height="94" fill="#c0c0c0"/>
<rect x="1154" y="645" width="1" height="94" fill="#c0c0c0"/>
<rect x="1162" y="645" width="1" height="95" fill="#c0c0c0"/>
<rect x="1170" y="645" width="1" height="94" fill="#c0c0c0"/>
<rect x="1178" y="645" width="1" height="98" fill="#c0c0c0"/>
<rect x="1186" y="645" width="1" height="94" fill="#c0c0c0"/>
<rect x="1194" y="645" width="1" height="93" fill="#c0c0c0"/>
<rect x="1202" y="645" width="1" height="86" fill="#c0c0c0"/>
<rect x="1210" y="645" width="1" height="79" fill="#c0c0c0"/>
<rect x="1218" y="645" width="1" height="65" fill="#c0c0c0"/>
<rect x="1226" y="645" width="1" height="54" fill="#c0c0c0"/>
<rect x="1234" y="645" width="1" height="47" fill="#c0c0c0"/>
<rect x="1242" y="645" width="1" height="40" fill="#c0c0c0"/>
<rect x="1250" y="645" width="1" height="36" fill="#c0c0c0"/>
<rect x="1258" y="645" width="1" height="33" fill="#c0c0c0"/>
<rect x="1266" y="645" width="1" height="32" fill="#c0c0c0"/>
<rect x="1274" y="645" width="1" height="35" fill="#c0c0c0"/>
<rect x="1282" y="645" width="1" height="41" fill="#c0c0c0"/>
<rect x="1290" y="645" width="1" height="44" fill="#c0c0c0"/>
<rect x="1298" y="645" width="1" height="43" fill="#c0c0c0"/>
<rect x="1306" y="645" width="1" height="49" fill="#c0c0c0"/>
<rect x="1314" y="645" width="1" height="53" fill="#c0c0c0"/>
<rect x="1322" y="645" width="1" height="54" fill="#c0c0c0"/>
<rect x="1330" y="645" width="1" height="53" fill="#c0c0c0"/>
<rect x="1338" y="645" width="1" height="51" fill="#c0c0c0"/>
<rect x="1346" y="645" width="1" height="44" fill="#c0c0c0"/>
<rect x="1354" y="645" width="1" height="44" fill="#c0c0c0"/>
<rect x="1362" y="645" width="1" height="45" fill="#c0c0c0"/>
<rect x="1370" y="645" width="1" height="49" fill="#c0c0c0"/>
<rect x="1378" y="645" width="1" height="50" fill="#c0c0c0"/>
<rect x="1386" y="645" width="1" height="36" fill="#c0c0c0"/>
<rect x="1394" y="645" width="1" height="32" fill="#c0c0c0"/>
<rect x="1402" y="645" width="1" height="30" fill="#c0c0c0"/>
<rect x="1410" y="645" width="1" height="32" fill="#c0c0c0"/>
<rect x="1418" y="645" width="1" height="39" fill="#c0c0c0"/>
<rect x="1426" y="645" width="1" height="34" fill="#c0c0c0"/>
<rect x="1434" y="645" width="1" height="30" fill="#c0c0c0"/>
<rect x="1442" y="645" width="1" height="27" fill="#c0c0c0"/>
<rect x="1450" y="645" width="1" height="26" fill="#c0c0c0"/>
<rect x="1458" y="645" width="1" height="15" fill="#c0c0c0"/>
<rect x="1466" y="645" width="1" height="5" fill="#c0c0c0"/>
<rect x="1482" y="642" width="1" height="4" fill="#c0c0c0"/>
<rect x="1490" y="634" width="1" height="12" fill="#c0c0c0"/>
<rect x="1498" y="635" width="1" height="11" fill="#c0c0c0"/>
</g>
<polyline points="0.0,714.0 10.0,703.0 20.0,694.0 30.0,687.6 40.0,681.0 50.0,676.0 60.0,672.6 70.0,670.6 80.0,670.4 90.0,671.4 100.0,671.4 110.0,671.0 120.0,669.6 130.0,668.6 140.0,667.0 150.0,666.0 160.0,663.6 170.0,664.4 180.0,666.0 190.0,671.0 200.0,675.0 210.0,681.0 220.0,688.0 230.0,694.4 240.0,700.0 250.0,703.6 260.0,705.6 270.0,707.6 280.0,709.6 290.0,710.4 300.0,709.6 310.0,707.6 320.0,707.6 330.0,708.4 340.0,708.4 346.0,708.4 356.0,708.4 362.0,710.6 370.0,711.6 378.0,714.4 386.0,717.4 394.0,718.6 410.0,719.4 416.0,720.4 430.0,720.6 446.0,721.6 458.0,723.4 466.0,724.6 476.0,725.6 486.0,726.4 498.0,726.4 506.0,723.6 516.0,719.0 526.0,711.6 536.0,704.0 546.0,695.0 556.0,687.0 566.0,679.0 572.0,674.6 578.0,671.0 586.0,667.0 596.0,660.6 602.0,657.0 610.0,650.6 618.0,644.4 626.0,638.0 634.0,631.0 642.0,623.0 650.0,616.0 658.0,609.0 666.0,605.0 674.0,601.6 682.0,600.6 692.0,600.6 702.0,603.6 712.0,608.6 722.0,615.6 732.0,625.0 742.0,634.0 752.0,643.0 762.0,651.6 772.0,657.0 782.0,664.0 792.0,669.0 802.0,671.0 812.0,672.4 832.0,672.4 846.0,671.6 856.0,668.0 866.0,663.0 876.0,656.0 884.0,650.4 892.0,647.0 900.0,645.6 906.0,644.4 914.0,644.4 922.0,647.6 932.0,654.0 942.0,663.0 950.0,671.0 956.0,676.0 962.0,680.0 972.0,684.4 982.0,686.4 992.0,686.4 1002.0,685.0 1008.0,682.6 1018.0,680.0 1028.0,677.6 1036.0,677.2 1038.0,677.2 1050.0,678.6 1062.0,680.4 1074.0,681.6 1082.0,685.6 1092.0,689.6 1102.0,694.4 1112.0,700.0 1122.0,707.6 1132.0,713.0 1142.0,719.0 1150.0,725.0 1158.0,729.0 1168.0,733.0 1178.0,737.6 1188.0,738.6 1198.0,738.4 1208.0,737.0 1218.0,733.6 1228.0,729.0 1238.0,722.0 1248.0,714.0 1258.0,705.0 1268.0,696.0 1278.0,689.0 1286.0,686.0 1296.0,685.0 1306.0,684.6 1316.0,685.6 1324.0,687.6 1332.0,691.0 1342.0,693.0 1352.0,693.4 1362.0,694.0 1374.0,693.6 1384.0,693.0 1392.0,690.0 1400.0,687.6 1408.0,685.6 1418.0,684.4 1428.0,683.6 1436.0,682.0 1444.0,679.0 1452.0,676.4 1460.0,675.0 1468.0,672.0 1476.0,668.0 1484.0,663.0 1490.0,658.0 1496.0,654.4 1498.4,653.0" fill="none" stroke="#f00" stroke-width="1" stroke-dasharray="3,3" shape-rendering="crispEdges"/>
<text x="-1" y="594" font-size="9.8" fill="#000" stroke="#000" stroke-width="0.22" textLength="150" lengthAdjust="spacingAndGlyphs">MACD(12,26,9) 0.001117 -0.000723</text>
<line x1="1185" y1="738.5" x2="1264.9" y2="675.6" stroke="#f00" stroke-width="3.1"/>
<polygon points="1272.0,670.0 1266.1,680.3 1260.6,673.3" fill="#f00"/>
<line x1="1272" y1="670" x2="1334.0" y2="701.9" stroke="#f00" stroke-width="3.1"/>
<polygon points="1342.0,706.0 1330.2,705.0 1334.3,697.0" fill="#f00"/>
<line x1="1343" y1="700.5" x2="1555.5" y2="630.3" stroke="#f00" stroke-width="3.1"/>
<polygon points="1564.0,627.5 1555.0,635.2 1552.1,626.7" fill="#f00"/>
<g id="rsi">
<line x1="0" y1="789.5" x2="1684" y2="789.5" stroke="#c0c0c0" stroke-width="1" stroke-dasharray="3,3" shape-rendering="crispEdges"/>
<line x1="0" y1="840.5" x2="1684" y2="840.5" stroke="#c0c0c0" stroke-width="1" stroke-dasharray="3,3" shape-rendering="crispEdges"/>
<line x1="0" y1="901.5" x2="1684" y2="901.5" stroke="#c0c0c0" stroke-width="1" stroke-dasharray="3,3" shape-rendering="crispEdges"/>
<polyline points="-5.5,840.3 2.5,838.3 10.5,834.2 18.5,837.7 26.5,849.4 34.5,846.3 42.5,849.4 50.5,851.1 58.5,852.1 66.5,853.2 74.5,840.8 82.5,854.2 90.5,843.9 98.5,842.2 106.5,841.4 114.5,839.3 122.5,840.8 130.5,855.2 138.5,844.5 146.5,843.3 154.5,844.5 162.5,851.1 170.5,862.4 178.5,865.5 186.5,867.2 194.5,863.5 202.5,863.5 210.5,873.4 218.5,864.1 226.5,868.2 234.5,854.2 242.5,857.9 250.5,854.2 258.5,855.6 266.5,868.2 274.5,871.3 282.5,860.4 290.5,848.6 298.5,848.6 306.5,853.2 314.5,857.9 322.5,866.6 330.5,869.2 338.5,862.4 346.5,862.4 354.5,865.5 362.5,873.4 370.5,862.4 378.5,866.6 386.5,863.5 394.5,864.5 402.5,856.3 410.5,863.1 418.5,866.6 426.5,868.2 434.5,872.3 442.5,873.8 450.5,878.3 458.5,874.4 466.5,875.4 474.5,852.1 482.5,865.1 490.5,858.9 498.5,854.8 506.5,832.5 514.5,844.5 522.5,839.7 530.5,838.3 538.5,840.2 546.5,841.4 554.5,838.3 562.5,840.2 570.5,846.3 578.5,838.7 586.5,837.3 594.5,821.2 602.5,822.6 610.5,811.3 618.5,819.5 626.5,814.4 634.5,817.7 642.5,822.2 650.5,818.1 658.5,833.1 666.5,837.3 674.5,834.2 682.5,835.6 690.5,843.5 698.5,832.5 706.5,843.9 714.5,853.2 722.5,860.4 730.5,860.4 738.5,863.5 746.5,857.3 754.5,855.2 762.5,840.4 770.5,847.4 778.5,848.6 786.5,846.3 794.5,857.3 802.5,850.5 810.5,853.6 818.5,851.7 826.5,850.5 834.5,838.3 842.5,841.4 850.5,822.2 858.5,821.2 866.5,821.2 874.5,814.4 882.5,840.8 890.5,857.3 898.5,853.2 906.5,858.3 914.5,864.1 922.5,864.1 930.5,866.6 938.5,861.4 946.5,856.3 954.5,842.2 962.5,843.5 970.5,844.5 978.5,852.1 986.5,846.3 994.5,849.4 1002.5,849.4 1010.5,848.4 1018.5,850.5 1026.5,852.1 1034.5,865.5 1042.5,862.9 1050.5,858.3 1058.5,864.5 1066.5,864.5 1074.5,862.4 1082.5,871.1 1090.5,873.4 1098.5,880.0 1106.5,888.6 1114.5,888.6 1122.5,881.0 1130.5,876.9 1138.5,874.2 1146.5,884.5 1154.5,875.2 1162.5,877.5 1170.5,874.2 1178.5,882.5 1186.5,869.2 1194.5,871.3 1202.5,856.9 1210.5,852.5 1218.5,842.8 1226.5,836.2 1234.5,845.5 1242.5,842.2 1250.5,845.5 1258.5,845.5 1266.5,849.4 1274.5,861.8 1282.5,866.6 1290.5,864.1 1298.5,850.5 1306.5,865.1 1314.5,866.6 1322.5,862.4 1330.5,856.9 1338.5,853.6 1346.5,843.5 1354.5,854.2 1362.5,855.6 1370.5,863.1 1378.5,848.0 1386.5,839.3 1394.5,843.5 1402.5,847.0 1410.5,860.4 1418.5,856.3 1426.5,843.5 1434.5,843.5 1442.5,840.8 1450.5,848.0 1458.5,829.4 1466.5,828.4 1474.5,832.5 1482.5,833.6 1490.5,826.3 1498.5,837.7" fill="none" stroke="#1e90ff" stroke-width="1" shape-rendering="crispEdges"/>
<text x="-4.5" y="766" font-size="9.8" fill="#000" stroke="#000" stroke-width="0.22" textLength="70.5" lengthAdjust="spacingAndGlyphs">RSI(14) 51.6078</text>
</g>
<g id="dates">
<rect x="-6" y="928" width="1" height="3" fill="#000" shape-rendering="crispEdges"/>
<text x="-6.5" y="939.5" font-size="9.8" fill="#000" stroke="#000" stroke-width="0.22" textLength="50" lengthAdjust="spacingAndGlyphs">26 Jun 2020</text>
<rect x="58" y="928" width="1" height="3" fill="#000" shape-rendering="crispEdges"/>
<text x="57.5" y="939.5" font-size="9.8" fill="#000" stroke="#000" stroke-width="0.22" textLength="42" lengthAdjust="spacingAndGlyphs">5 Jul 2020</text>
<rect x="122" y="928" width="1" height="3" fill="#000" shape-rendering="crispEdges"/>
<text x="121.5" y="939.5" font-size="9.8" fill="#000" stroke="#000" stroke-width="0.22" textLength="47" lengthAdjust="spacingAndGlyphs">14 Jul 2020</text>
<rect x="186" y="928" width="1" height="3" fill="#000" shape-rendering="crispEdges"/>
<text x="185.5" y="939.5" font-size="9.8" fill="#000" stroke="#000" stroke-width="0.22" textLength="47" lengthAdjust="spacingAndGlyphs">23 Jul 2020</text>
<rect x="250" y="928" width="1" height="3" fill="#000" shape-rendering="crispEdges"/>
<text x="249.5" y="939.5" font-size="9.8" fill="#000" stroke="#000" stroke-width="0.22" textLength="47.5" lengthAdjust="spacingAndGlyphs">2 Aug 2020</text>
<rect x="314" y="928" width="1" height="3" fill="#000" shape-rendering="crispEdges"/>
<text x="313.5" y="939.5" font-size="9.8" fill="#000" stroke="#000" stroke-width="0.22" textLength="52.5" lengthAdjust="spacingAndGlyphs">11 Aug 2020</text>
<rect x="378" y="928" width="1" height="3" fill="#000" shape-rendering="crispEdges"/>
<text x="377.5" y="939.5" font-size="9.8" fill="#000" stroke="#000" stroke-width="0.22" textLength="52.5" lengthAdjust="spacingAndGlyphs">20 Aug 2020</text>
<rect x="442" y="928" width="1" height="3" fill="#000" shape-rendering="crispEdges"/>
<text x="441.5" y="939.5" font-size="9.8" fill="#000" stroke="#000" stroke-width="0.22" textLength="52.5" lengthAdjust="spacingAndGlyphs">30 Aug 2020</text>
<rect x="506" y="928" width="1" height="3" fill="#000" shape-rendering="crispEdges"/>
<text x="505.5" y="939.5" font-size="9.8" fill="#000" stroke="#000" stroke-width="0.22" textLength="47" lengthAdjust="spacingAndGlyphs">8 Sep 2020</text>
<rect x="570" y="928" width="1" height="3" fill="#000" shape-rendering="crispEdges"/>
<text x="569.5" y="939.5" font-size="9.8" fill="#000" stroke="#000" stroke-width="0.22" textLength="52" lengthAdjust="spacingAndGlyphs">17 Sep 2020</text>
<rect x="634" y="928" width="1" height="3" fill="#000" shape-rendering="crispEdges"/>
<text x="633.5" y="939.5" font-size="9.8" fill="#000" stroke="#000" stroke-width="0.22" textLength="52" lengthAdjust="spacingAndGlyphs">27 Sep 2020</text>
<rect x="698" y="928" width="1" height="3" fill="#000" shape-rendering="crispEdges"/>
<text x="697.5" y="939.5" font-size="9.8" fill="#000" stroke="#000" stroke-width="0.22" textLength="45.5" lengthAdjust="spacingAndGlyphs">6 Oct 2020</text>
<rect x="762" y="928" width="1" height="3" fill="#000" shape-rendering="crispEdges"/>
<text x="761.5" y="939.5" font-size="9.8" fill="#000" stroke="#000" stroke-width="0.22" textLength="50.5" lengthAdjust="spacingAndGlyphs">15 Oct 2020</text>
<rect x="826" y="928" width="1" height="3" fill="#000" shape-rendering="crispEdges"/>
<text x="825.5" y="939.5" font-size="9.8" fill="#000" stroke="#000" stroke-width="0.22" textLength="50.5" lengthAdjust="spacingAndGlyphs">25 Oct 2020</text>
<rect x="890" y="928" width="1" height="3" fill="#000" shape-rendering="crispEdges"/>
<text x="889.5" y="939.5" font-size="9.8" fill="#000" stroke="#000" stroke-width="0.22" textLength="47.5" lengthAdjust="spacingAndGlyphs">3 Nov 2020</text>
<rect x="954" y="928" width="1" height="3" fill="#000" shape-rendering="crispEdges"/>
<text x="953.5" y="939.5" font-size="9.8" fill="#000" stroke="#000" stroke-width="0.22" textLength="52.5" lengthAdjust="spacingAndGlyphs">12 Nov 2020</text>
<rect x="1018" y="928" width="1" height="3" fill="#000" shape-rendering="crispEdges"/>
<text x="1017.5" y="939.5" font-size="9.8" fill="#000" stroke="#000" stroke-width="0.22" textLength="52.5" lengthAdjust="spacingAndGlyphs">22 Nov 2020</text>
<rect x="1082" y="928" width="1" height="3" fill="#000" shape-rendering="crispEdges"/>
<text x="1081.5" y="939.5" font-size="9.8" fill="#000" stroke="#000" stroke-width="0.22" textLength="47.0" lengthAdjust="spacingAndGlyphs">1 Dec 2020</text>
<rect x="1146" y="928" width="1" height="3" fill="#000" shape-rendering="crispEdges"/>
<text x="1145.5" y="939.5" font-size="9.8" fill="#000" stroke="#000" stroke-width="0.22" textLength="52.0" lengthAdjust="spacingAndGlyphs">10 Dec 2020</text>
<rect x="1210" y="928" width="1" height="3" fill="#000" shape-rendering="crispEdges"/>
<text x="1209.5" y="939.5" font-size="9.8" fill="#000" stroke="#000" stroke-width="0.22" textLength="52.0" lengthAdjust="spacingAndGlyphs">20 Dec 2020</text>
<rect x="1274" y="928" width="1" height="3" fill="#000" shape-rendering="crispEdges"/>
<text x="1273.5" y="939.5" font-size="9.8" fill="#000" stroke="#000" stroke-width="0.22" textLength="52.0" lengthAdjust="spacingAndGlyphs">30 Dec 2020</text>
<rect x="1338" y="928" width="1" height="3" fill="#000" shape-rendering="crispEdges"/>
<text x="1337.5" y="939.5" font-size="9.8" fill="#000" stroke="#000" stroke-width="0.22" textLength="50" lengthAdjust="spacingAndGlyphs">10 Jan 2021</text>
<rect x="1402" y="928" width="1" height="3" fill="#000" shape-rendering="crispEdges"/>
<text x="1401.5" y="939.5" font-size="9.8" fill="#000" stroke="#000" stroke-width="0.22" textLength="50" lengthAdjust="spacingAndGlyphs">19 Jan 2021</text>
<rect x="1466" y="928" width="1" height="3" fill="#000" shape-rendering="crispEdges"/>
<text x="1465.5" y="939.5" font-size="9.8" fill="#000" stroke="#000" stroke-width="0.22" textLength="50" lengthAdjust="spacingAndGlyphs">28 Jan 2021</text>
</g>
<g id="panel">
<defs><linearGradient id="rg" gradientUnits="userSpaceOnUse" x1="0" y1="46" x2="0" y2="110"><stop offset="0" stop-color="#fb5252"/><stop offset="0.35" stop-color="#e43535"/><stop offset="0.7" stop-color="#c51414"/><stop offset="1" stop-color="#ae0202"/></linearGradient><linearGradient id="gg" x1="0" y1="0" x2="0" y2="1"><stop offset="0" stop-color="#f4f4f4"/><stop offset="0.45" stop-color="#e4e4e4"/><stop offset="0.5" stop-color="#d0d0d0"/><stop offset="1" stop-color="#dcdcdc"/></linearGradient></defs>
<rect x="0" y="45" width="218" height="67" fill="#fff" shape-rendering="crispEdges"/>
<g shape-rendering="crispEdges">
<rect x="0" y="46" width="49" height="24" fill="url(#rg)"/>
<rect x="0" y="70" width="106" height="40" fill="url(#rg)"/>
<rect x="164" y="46" width="52" height="24" fill="url(#rg)"/>
<rect x="108" y="70" width="108" height="40" fill="url(#rg)"/>
<rect x="1" y="69" width="44" height="1" fill="#8a0000"/>
<rect x="168" y="69" width="44" height="1" fill="#8a0000"/>
<rect x="51.5" y="46.5" width="110" height="21" fill="#fff" stroke="#a6a6a6"/>
<rect x="53" y="47" width="19" height="20" fill="url(#gg)"/>
<rect x="72" y="47" width="1" height="20" fill="#a6a6a6"/>
<rect x="141" y="47" width="20" height="20" fill="url(#gg)"/>
<rect x="140" y="47" width="1" height="20" fill="#a6a6a6"/>
</g>
<polygon points="59,55 65,55 62,58" fill="#4a5ec8"/>
<polygon points="148,58 154,58 151,55" fill="#4a5ec8"/>
<text x="22" y="61.5" font-size="11" fill="#fff" text-anchor="middle">SELL</text>
<text x="189.5" y="61.5" font-size="11" fill="#fff" text-anchor="middle">BUY</text>
<text x="137" y="61" font-size="12" fill="#000" text-anchor="end">1.00</text>
<text x="17" y="101" font-size="12" font-weight="bold" fill="#fff">1.27</text>
<text x="127" y="101" font-size="12" font-weight="bold" fill="#fff">1.27</text>
<text x="44" y="101.5" font-size="36" fill="#fff" font-family="'Liberation Serif',serif" letter-spacing="-1">80</text>
<text x="155" y="101.5" font-size="36" fill="#fff" font-family="'Liberation Serif',serif" letter-spacing="-1">83</text>
<text x="84" y="85" font-size="12.5" font-weight="bold" fill="#fff">7</text>
<text x="195.5" y="85" font-size="12.5" font-weight="bold" fill="#fff">3</text>
<polygon points="133.5,82.3 135.2,84 133.5,85.7 131.8,84" fill="none" stroke="#48d8e0" stroke-width="0.8"/>
</g>
<polygon points="1507,27 1517,27 1512,32" fill="#c0c0c0"/>
<g id="toolbar">
<rect x="0" y="0" width="1731" height="22" fill="#f0f0f0" shape-rendering="crispEdges"/>
<rect x="0" y="22" width="1731" height="1" fill="#a0a0a0" shape-rendering="crispEdges"/>
<rect x="0" y="23" width="1731" height="1" fill="#696969" shape-rendering="crispEdges"/>
<rect x="45" y="1" width="1" height="20" fill="#a0a0a0" shape-rendering="crispEdges"/>
<rect x="46" y="1" width="1" height="20" fill="#fff" shape-rendering="crispEdges"/>
<rect x="281" y="1" width="1" height="20" fill="#a0a0a0" shape-rendering="crispEdges"/>
<rect x="282" y="1" width="1" height="20" fill="#fff" shape-rendering="crispEdges"/>
<rect x="319" y="1" width="1" height="20" fill="#a0a0a0" shape-rendering="crispEdges"/>
<rect x="320" y="1" width="1" height="20" fill="#fff" shape-rendering="crispEdges"/>
<rect x="376" y="1" width="1" height="20" fill="#a0a0a0" shape-rendering="crispEdges"/>
<rect x="377" y="1" width="1" height="20" fill="#fff" shape-rendering="crispEdges"/>
<rect x="466" y="1" width="1" height="20" fill="#a0a0a0" shape-rendering="crispEdges"/>
<rect x="467" y="1" width="1" height="20" fill="#fff" shape-rendering="crispEdges"/>
<rect x="499" y="1" width="1" height="20" fill="#a0a0a0" shape-rendering="crispEdges"/>
<rect x="500" y="1" width="1" height="20" fill="#fff" shape-rendering="crispEdges"/>
<rect x="528" y="1" width="1" height="20" fill="#a0a0a0" shape-rendering="crispEdges"/>
<rect x="529" y="1" width="1" height="20" fill="#fff" shape-rendering="crispEdges"/>
<rect x="649" y="1" width="1" height="20" fill="#a0a0a0" shape-rendering="crispEdges"/>
<rect x="650" y="1" width="1" height="20" fill="#fff" shape-rendering="crispEdges"/>
<rect x="659" y="1" width="1" height="20" fill="#a0a0a0" shape-rendering="crispEdges"/>
<rect x="660" y="1" width="1" height="20" fill="#fff" shape-rendering="crispEdges"/>
<rect x="716" y="1" width="1" height="20" fill="#a0a0a0" shape-rendering="crispEdges"/>
<rect x="717" y="1" width="1" height="20" fill="#fff" shape-rendering="crispEdges"/>
<rect x="955" y="1" width="1" height="20" fill="#a0a0a0" shape-rendering="crispEdges"/>
<rect x="956" y="1" width="1" height="20" fill="#fff" shape-rendering="crispEdges"/>
<rect x="1133" y="1" width="1" height="20" fill="#a0a0a0" shape-rendering="crispEdges"/>
<rect x="1134" y="1" width="1" height="20" fill="#fff" shape-rendering="crispEdges"/>
<rect x="1216" y="1" width="1" height="20" fill="#a0a0a0" shape-rendering="crispEdges"/>
<rect x="1217" y="1" width="1" height="20" fill="#fff" shape-rendering="crispEdges"/>
<rect x="284.5" y="2" width="3.5" height="1" fill="#b4b4b4" shape-rendering="crispEdges"/>
<rect x="284.5" y="4" width="3.5" height="1" fill="#b4b4b4" shape-rendering="crispEdges"/>
<rect x="284.5" y="6" width="3.5" height="1" fill="#b4b4b4" shape-rendering="crispEdges"/>
<rect x="284.5" y="8" width="3.5" height="1" fill="#b4b4b4" shape-rendering="crispEdges"/>
<rect x="284.5" y="10" width="3.5" height="1" fill="#b4b4b4" shape-rendering="crispEdges"/>
<rect x="284.5" y="12" width="3.5" height="1" fill="#b4b4b4" shape-rendering="crispEdges"/>
<rect x="284.5" y="14" width="3.5" height="1" fill="#b4b4b4" shape-rendering="crispEdges"/>
<rect x="284.5" y="16" width="3.5" height="1" fill="#b4b4b4" shape-rendering="crispEdges"/>
<rect x="284.5" y="18" width="3.5" height="1" fill="#b4b4b4" shape-rendering="crispEdges"/>
<rect x="284.5" y="20" width="3.5" height="1" fill="#b4b4b4" shape-rendering="crispEdges"/>
<rect x="653" y="2" width="3.5" height="1" fill="#b4b4b4" shape-rendering="crispEdges"/>
<rect x="653" y="4" width="3.5" height="1" fill="#b4b4b4" shape-rendering="crispEdges"/>
<rect x="653" y="6" width="3.5" height="1" fill="#b4b4b4" shape-rendering="crispEdges"/>
<rect x="653" y="8" width="3.5" height="1" fill="#b4b4b4" shape-rendering="crispEdges"/>
<rect x="653" y="10" width="3.5" height="1" fill="#b4b4b4" shape-rendering="crispEdges"/>
<rect x="653" y="12" width="3.5" height="1" fill="#b4b4b4" shape-rendering="crispEdges"/>
<rect x="653" y="14" width="3.5" height="1" fill="#b4b4b4" shape-rendering="crispEdges"/>
<rect x="653" y="16" width="3.5" height="1" fill="#b4b4b4" shape-rendering="crispEdges"/>
<rect x="653" y="18" width="3.5" height="1" fill="#b4b4b4" shape-rendering="crispEdges"/>
<rect x="653" y="20" width="3.5" height="1" fill="#b4b4b4" shape-rendering="crispEdges"/>
<rect x="958.5" y="2" width="3.5" height="1" fill="#b4b4b4" shape-rendering="crispEdges"/>
<rect x="958.5" y="4" width="3.5" height="1" fill="#b4b4b4" shape-rendering="crispEdges"/>
<rect x="958.5" y="6" width="3.5" height="1" fill="#b4b4b4" shape-rendering="crispEdges"/>
<rect x="958.5" y="8" width="3.5" height="1" fill="#b4b4b4" shape-rendering="crispEdges"/>
<rect x="958.5" y="10" width="3.5" height="1" fill="#b4b4b4" shape-rendering="crispEdges"/>
<rect x="958.5" y="12" width="3.5" height="1" fill="#b4b4b4" shape-rendering="crispEdges"/>
<rect x="958.5" y="14" width="3.5" height="1" fill="#b4b4b4" shape-rendering="crispEdges"/>
<rect x="958.5" y="16" width="3.5" height="1" fill="#b4b4b4" shape-rendering="crispEdges"/>
<rect x="958.5" y="18" width="3.5" height="1" fill="#b4b4b4" shape-rendering="crispEdges"/>
<rect x="958.5" y="20" width="3.5" height="1" fill="#b4b4b4" shape-rendering="crispEdges"/>
<polygon points="560,9 565,9 562.5,12" fill="#000"/>
<polygon points="599.5,9 604.5,9 602.0,12" fill="#000"/>
<polygon points="638,9 643,9 640.5,12" fill="#000"/>
<polygon points="942.5,9 947.5,9 945.0,12" fill="#000"/>
<rect x="321" y="1" width="24" height="20" fill="#f8f8f8" shape-rendering="crispEdges"/>
<rect x="470" y="1" width="28" height="20" fill="#f8f8f8" shape-rendering="crispEdges"/>
<rect x="501" y="1" width="26" height="20" fill="#f8f8f8" shape-rendering="crispEdges"/>
<rect x="661" y="1" width="25" height="20" fill="#f8f8f8" shape-rendering="crispEdges"/>
<rect x="1135" y="1" width="24" height="20" fill="#f8f8f8" shape-rendering="crispEdges"/>
<rect x="-4" y="3.5" width="11" height="13" rx="1.5" fill="#fff" stroke="#3a78c8" stroke-width="1.6"/>
<line x1="0" y1="7" x2="6" y2="7" stroke="#c8d8f8" stroke-width="1"/>
<line x1="0" y1="9.5" x2="6" y2="9.5" stroke="#c8d8f8" stroke-width="1"/>
<line x1="0" y1="12" x2="6" y2="12" stroke="#c8d8f8" stroke-width="1"/>
<rect x="20.5" y="2.5" width="12" height="13" rx="1" fill="#fafafa" stroke="#b8b0a0"/>
<path d="M23,5v6M22,9h2M29,4v6M28,5h2" stroke="#808890" fill="none"/>
<circle cx="28.5" cy="11" r="4.8" fill="#d8ecf8" fill-opacity="0.85" stroke="#5a8cd8" stroke-width="1.2"/>
<line x1="32.5" y1="15" x2="37" y2="19" stroke="#c89a18" stroke-width="2.6"/>
<path d="M55.5,3.5h8l3,3v9h-11z" fill="#fcfcfc" stroke="#707070"/>
<path d="M57,6h3M57,9h6M57,11.5h4" stroke="#909090" fill="none"/>
<path d="M63.5,8.2h3.6v4h4v3.6h-4v4h-3.6v-4h-4v-3.6h4z" fill="#22c82a" stroke="#0a9a12" stroke-width="0.7"/>
<text x="73.5" y="13" font-size="12" fill="#000" text-anchor="start" id="t_new">新订单</text>
<defs><linearGradient id="gold" x1="0" y1="0" x2="1" y2="1"><stop offset="0" stop-color="#ffe47a"/><stop offset="0.5" stop-color="#e8b030"/><stop offset="1" stop-color="#b87c08"/></linearGradient></defs>
<path d="M122,11.4 L128.7,3.1 L138.1,10.4 L130.3,17.7 Z" fill="url(#gold)" stroke="#a87408" stroke-width="0.8"/>
<path d="M122,11.4 L130.3,17.7 L130.3,19 L122,12.8Z" fill="#fff4d0" stroke="#a87408" stroke-width="0.6"/>
<rect x="152.5" y="2.5" width="10" height="10" fill="#3a8ae8" stroke="#2a68c0"/>
<rect x="153" y="3" width="3" height="9" fill="#9ccaf8"/><rect x="157" y="6" width="4.5" height="2.5" fill="#e0f0ff"/>
<path d="M151,17.5 a3.5,3.5 0 0 1 1.5,-6.5 a4,4 0 0 1 7.5,0 a3.2,3.2 0 0 1 4,6.5 z" fill="#e8f0fc" stroke="#7088b0" stroke-width="1"/>
<circle cx="186" cy="10.5" r="7.5" fill="none" stroke="#8ab0e0" stroke-width="1.3"/>
<circle cx="186" cy="10.5" r="4.8" fill="none" stroke="#5a98d8" stroke-width="1.3"/>
<circle cx="186" cy="10.5" r="2" fill="#3070c0"/>
<path d="M186,10.5 L186,17.8 A7.3,7.3 0 0 0 193.3,10.5" fill="none" stroke="#38b040" stroke-width="2"/>
<ellipse cx="213" cy="8" rx="8" ry="3.2" fill="#5a9ee0" stroke="#3a70b8" stroke-width="0.8"/>
<ellipse cx="213" cy="5.5" rx="4" ry="2.5" fill="#6aaef0"/>
<path d="M206,10 L220,10 L214,18 L210,18 Z" fill="#f0c840" stroke="#b89010" stroke-width="0.8"/>
<circle cx="217.5" cy="14.5" r="4.2" fill="#e02818"/>
<rect x="215.8" y="12.8" width="3.4" height="3.4" fill="#fff"/>
<text x="226.5" y="13" font-size="12" fill="#000" text-anchor="start" id="t_auto" textLength="46.5">自动交易</text>
<path d="M299.5,3.5v15M297,16.5h14" stroke="#505050" fill="none" stroke-width="1.2"/>
<path d="M297.5,6l2,-3l2,3M308.5,14.5l3,2l-3,2" stroke="#505050" fill="none" stroke-width="1"/>
<path d="M306.5,5v9M306.5,6h3M304,12.5h2.5" stroke="#18a028" stroke-width="1.4" fill="none"/>
<path d="M327.5,3.5v15M325,16.5h14" stroke="#505050" fill="none" stroke-width="1.2"/>
<path d="M325.5,6l2,-3l2,3M336.5,14.5l3,2l-3,2" stroke="#505050" fill="none" stroke-width="1"/>
<path d="M333.5,2v13" stroke="#18a028" stroke-width="1"/><rect x="331.5" y="4.5" width="4" height="7.5" fill="#30c840" stroke="#108820"/>
<path d="M355.5,3.5v15M353,16.5h14" stroke="#505050" fill="none" stroke-width="1.2"/>
<path d="M353.5,6l2,-3l2,3M364.5,14.5l3,2l-3,2" stroke="#505050" fill="none" stroke-width="1"/>
<path d="M356,14 Q359,5 362,7 T367,12" stroke="#18a028" stroke-width="1.4" fill="none"/>
<line x1="395" y1="12.5" x2="400.5" y2="18" stroke="#d8a820" stroke-width="2.8"/>
<circle cx="391.5" cy="8.5" r="5.8" fill="#d8ecfc" stroke="#4a88d8" stroke-width="1.5"/>
<path d="M388.5,8.5h6M391.5,5.5v6" stroke="#3a78d0" stroke-width="1.8" fill="none"/>
<line x1="423" y1="12.5" x2="428.5" y2="18" stroke="#d8a820" stroke-width="2.8"/>
<circle cx="419.5" cy="8.5" r="5.8" fill="#d8ecfc" stroke="#4a88d8" stroke-width="1.5"/>
<path d="M416.5,8.5h6" stroke="#3a78d0" stroke-width="1.8" fill="none"/>
<rect x="441" y="2" width="7.5" height="7.5" fill="#58a828"/>
<rect x="442.5" y="5" width="4.5" height="3" fill="#e8f0f8"/>
<rect x="449.5" y="2" width="7.5" height="7.5" fill="#2858c8"/>
<rect x="451.0" y="5" width="4.5" height="3" fill="#e8f0f8"/>
<rect x="441" y="10.5" width="7.5" height="7.5" fill="#2858c8"/>
<rect x="442.5" y="13.5" width="4.5" height="3" fill="#e8f0f8"/>
<rect x="449.5" y="10.5" width="7.5" height="7.5" fill="#58a828"/>
<rect x="451.0" y="13.5" width="4.5" height="3" fill="#e8f0f8"/>
<path d="M479.5,3.5v15M477,16.5h14" stroke="#505050" fill="none" stroke-width="1.2"/>
<path d="M477.5,6l2,-3l2,3M488.5,14.5l3,2l-3,2" stroke="#505050" fill="none" stroke-width="1"/>
<path d="M484,6.5l4.5,3l-4.5,3z" fill="#30b840" stroke="#108820" stroke-width="0.8"/>
<path d="M507.5,3.5v15M505,16.5h14" stroke="#505050" fill="none" stroke-width="1.2"/>
<path d="M505.5,6l2,-3l2,3M516.5,14.5l3,2l-3,2" stroke="#505050" fill="none" stroke-width="1"/>
<path d="M513,3v13" stroke="#2860c0" stroke-width="1.2"/><path d="M519,9.5h-4M517,7.5l-2.5,2l2.5,2" stroke="#d03010" stroke-width="1.2" fill="none"/>
<path d="M538.5,3.5h8l3,3v9h-11z" fill="#fcfcfc" stroke="#707070"/>
<path d="M540,6h3M540,9h6M540,11.5h4" stroke="#909090" fill="none"/>
<path d="M546.5,8.2h3.6v4h4v3.6h-4v4h-3.6v-4h-4v-3.6h4z" fill="#22c82a" stroke="#0a9a12" stroke-width="0.7"/>
<circle cx="584" cy="10" r="7.5" fill="#f4f8fc" stroke="#2870d0" stroke-width="2.2"/>
<path d="M584,5.5v5h3.5" stroke="#404040" stroke-width="1.2" fill="none"/>
<rect x="615.5" y="3.5" width="15" height="13" rx="1" fill="#f8fbff" stroke="#3a78c8" stroke-width="1.2"/>
<rect x="616" y="4" width="14" height="2.5" fill="#6aa0e0"/>
<path d="M618,10l3,-1l3,0.5l4,-1.5" stroke="#c03010" stroke-width="1.2" fill="none"/>
<path d="M618,14.5l3,-1.5l2,1l2,-1.5l3,1.5" stroke="#20a030" stroke-width="1.2" fill="none"/>
<path d="M667,3.5 L667,15 L669.8,12.5 L672,17 L673.8,16.2 L671.6,11.8 L675.5,11.8 Z" fill="#404040"/>
<path d="M699.5,3v14M692,10.5h15" stroke="#404040" stroke-width="1" fill="none" shape-rendering="crispEdges"/>
<path d="M733.5,4v13M756,10.5h12" stroke="#404040" stroke-width="1" fill="none" shape-rendering="crispEdges"/>
<path d="M784,17L796,5" stroke="#505050" stroke-width="1.2" fill="none"/>
<path d="M810,13L822,3M812,17L824,7M813,9v7M817,6v7M821,3v7" stroke="#505050" stroke-width="1.1" fill="none"/>
<text x="821" y="19" font-size="7" fill="#303030" text-anchor="start" font-weight="bold">E</text>
<line x1="838" y1="4.5" x2="851" y2="4.5" stroke="#505050" stroke-dasharray="1,1" shape-rendering="crispEdges"/>
<line x1="838" y1="7.5" x2="851" y2="7.5" stroke="#505050" stroke-dasharray="1,1" shape-rendering="crispEdges"/>
<line x1="838" y1="10.5" x2="851" y2="10.5" stroke="#505050" stroke-dasharray="1,1" shape-rendering="crispEdges"/>
<line x1="838" y1="13.5" x2="851" y2="13.5" stroke="#505050" stroke-dasharray="1,1" shape-rendering="crispEdges"/>
<text x="848.5" y="19" font-size="7" fill="#303030" text-anchor="start" font-weight="bold">F</text>
<text x="872.5" y="16" font-size="13" fill="#505050" text-anchor="middle" font-weight="bold">A</text>
<rect x="896.5" y="4.5" width="11" height="12" fill="none" stroke="#505050" stroke-dasharray="1,1" shape-rendering="crispEdges"/>
<text x="902" y="15.5" font-size="12" fill="#505050" text-anchor="middle" font-weight="bold">T</text>
<path d="M927,3.5l3,3l-3,3l-3,-3z M933,10.5l3.5,3l-3.5,3l-3.5,-3z" fill="#404040"/><path d="M926,11.5l2.5,2.5l3.5,-5" stroke="#404040" fill="none" stroke-width="1.3"/>
<text x="970.5" y="14" font-size="10.6" fill="#303030" textLength="13" lengthAdjust="spacingAndGlyphs">M1</text>
<text x="998.5" y="14" font-size="10.6" fill="#303030" textLength="12.5" lengthAdjust="spacingAndGlyphs">M5</text>
<text x="1024" y="14" font-size="10.6" fill="#303030" textLength="18.4" lengthAdjust="spacingAndGlyphs">M15</text>
<text x="1052.5" y="14" font-size="10.6" fill="#303030" textLength="17.8" lengthAdjust="spacingAndGlyphs">M30</text>
<text x="1083.7" y="14" font-size="10.6" fill="#303030" textLength="11.5" lengthAdjust="spacingAndGlyphs">H1</text>
<text x="1110.4" y="14" font-size="10.6" fill="#303030" textLength="12.5" lengthAdjust="spacingAndGlyphs">H4</text>
<text x="1139" y="14" font-size="10.6" fill="#303030" textLength="12.3" lengthAdjust="spacingAndGlyphs">D1</text>
<text x="1167" y="14" font-size="10.6" fill="#303030" textLength="14.6" lengthAdjust="spacingAndGlyphs">W1</text>
<text x="1193.7" y="14" font-size="10.6" fill="#303030" textLength="14.8" lengthAdjust="spacingAndGlyphs">MN</text>
<circle cx="1686.5" cy="7.5" r="3.9" fill="#f8f8f8" stroke="#2860d0" stroke-width="1.4"/>
<line x1="1683.5" y1="10.5" x2="1679" y2="14.8" stroke="#2860d0" stroke-width="2.6"/>
<path d="M1703.5,12 a6.5,5 0 0 1 13,0 a6.5,5 0 0 1 -8,4.8 l-2,2.2 l0,-3 a6,5 0 0 1 -3,-4z" fill="#e4e6ea" stroke="#b0b4b8" stroke-width="0.8"/>
<defs><linearGradient id="bg" x1="0" y1="0" x2="0" y2="1"><stop offset="0" stop-color="#e85838"/><stop offset="1" stop-color="#d01810"/></linearGradient></defs>
<circle cx="1717.7" cy="7.4" r="8.3" fill="url(#bg)"/>
<text x="1717.5" y="12.5" font-size="14" fill="#fff" text-anchor="middle" font-weight="bold">1</text>
</g>
</svg>
</body></html>
